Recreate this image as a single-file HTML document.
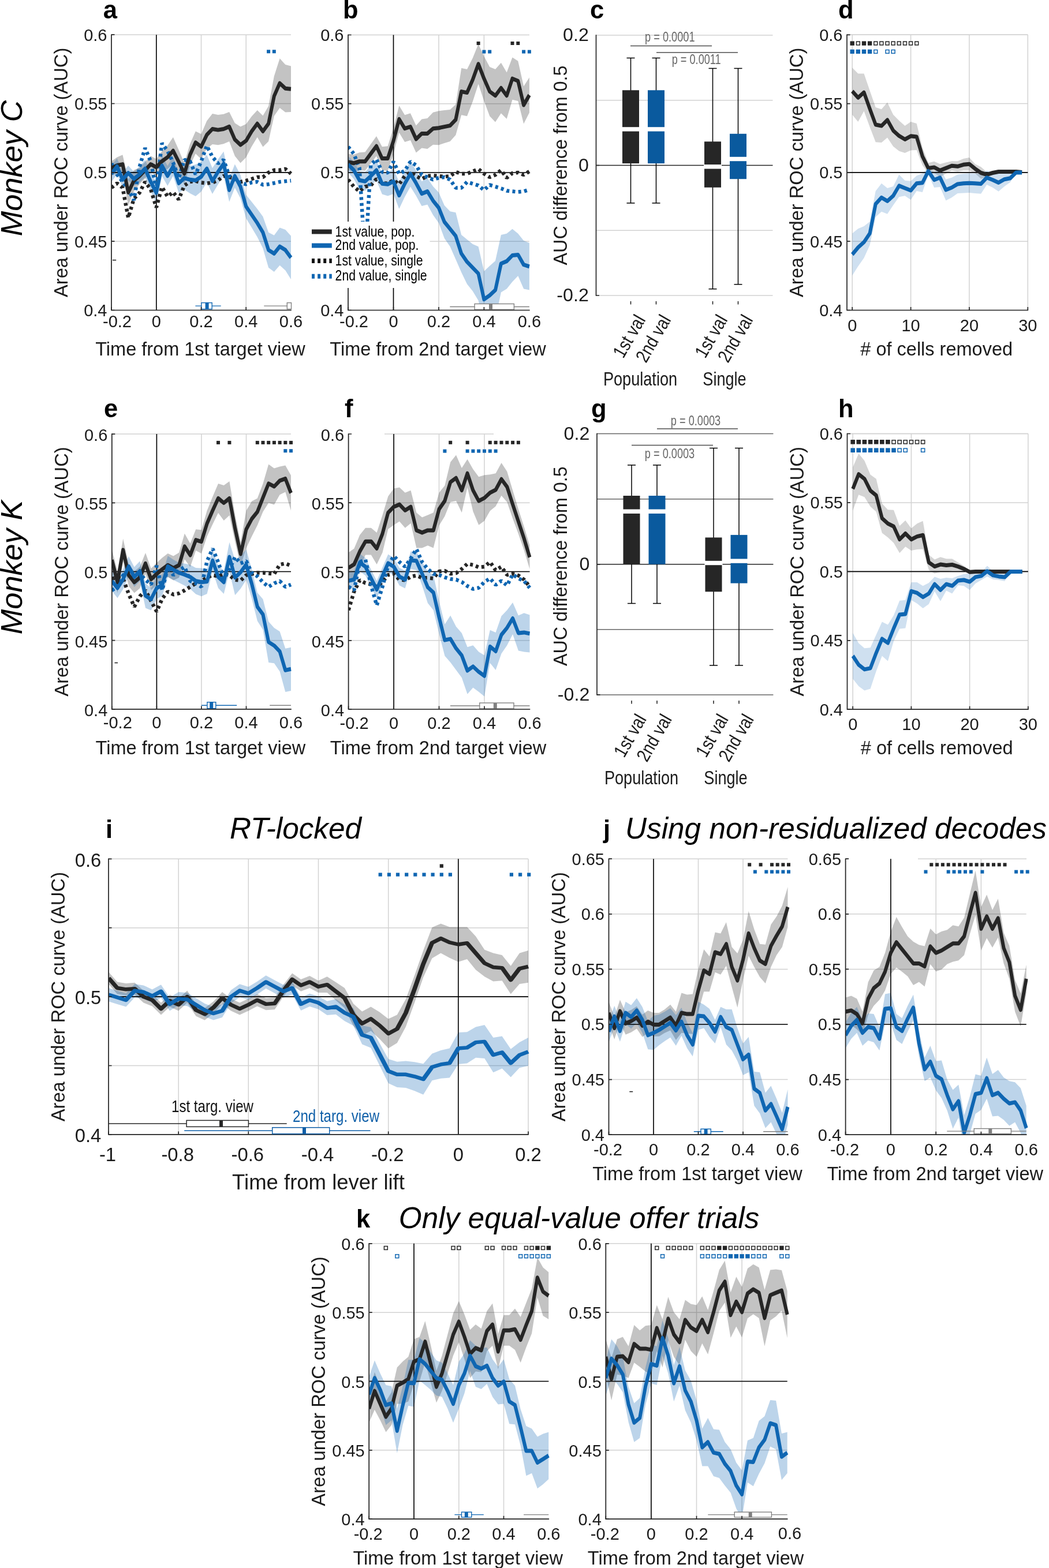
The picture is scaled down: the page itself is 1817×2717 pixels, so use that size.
<!DOCTYPE html>
<html lang="en"><head><meta charset="utf-8"><title>Figure</title>
<style>html,body{margin:0;padding:0;background:#fff}body{width:1817px;height:2717px;overflow:hidden}svg{display:block}</style>
</head><body>
<svg width="1817" height="2717" viewBox="0 0 1817 2717" font-family='"Liberation Sans", sans-serif'>
<rect width="1817" height="2717" fill="#fff"/>
<line x1="193" y1="60.2" x2="193" y2="537.5" stroke="#d2d2d2" stroke-width="1.5"/>
<line x1="270.8" y1="60.2" x2="270.8" y2="537.5" stroke="#d2d2d2" stroke-width="1.5"/>
<line x1="348.5" y1="60.2" x2="348.5" y2="537.5" stroke="#d2d2d2" stroke-width="1.5"/>
<line x1="426.2" y1="60.2" x2="426.2" y2="537.5" stroke="#d2d2d2" stroke-width="1.5"/>
<line x1="193" y1="537.5" x2="504" y2="537.5" stroke="#d2d2d2" stroke-width="1.5"/>
<line x1="193" y1="418.2" x2="504" y2="418.2" stroke="#d2d2d2" stroke-width="1.5"/>
<line x1="193" y1="298.9" x2="504" y2="298.9" stroke="#d2d2d2" stroke-width="1.5"/>
<line x1="193" y1="179.5" x2="504" y2="179.5" stroke="#d2d2d2" stroke-width="1.5"/>
<line x1="193" y1="60.2" x2="504" y2="60.2" stroke="#d2d2d2" stroke-width="1.5"/>
<text transform="translate(185.5 547.9)" font-size="29" text-anchor="end" fill="#1a1a1a">0.4</text>
<text transform="translate(185.5 428.6)" font-size="29" text-anchor="end" fill="#1a1a1a">0.45</text>
<text transform="translate(185.5 309.2)" font-size="29" text-anchor="end" fill="#1a1a1a">0.5</text>
<text transform="translate(185.5 189.9)" font-size="29" text-anchor="end" fill="#1a1a1a">0.55</text>
<text transform="translate(185.5 70.6)" font-size="29" text-anchor="end" fill="#1a1a1a">0.6</text>
<text transform="translate(203 567.3)" font-size="29" text-anchor="middle" fill="#1a1a1a">-0.2</text>
<text transform="translate(270.8 567.3)" font-size="29" text-anchor="middle" fill="#1a1a1a">0</text>
<text transform="translate(348.5 567.3)" font-size="29" text-anchor="middle" fill="#1a1a1a">0.2</text>
<text transform="translate(426.2 567.3)" font-size="29" text-anchor="middle" fill="#1a1a1a">0.4</text>
<text transform="translate(504 567.3)" font-size="29" text-anchor="middle" fill="#1a1a1a">0.6</text>
<text transform="translate(347 615.5)" font-size="32.5" text-anchor="middle" fill="#1a1a1a">Time from 1st target view</text>
<text transform="translate(117 298.9) rotate(-90)" font-size="32.7" text-anchor="middle" fill="#1a1a1a">Area under ROC curve (AUC)</text>
<clipPath id="c1"><rect x="193" y="60.2" width="311.5" height="477.3"/></clipPath>
<g clip-path="url(#c1)">
<polygon points="193,279.5 202.7,272.4 212.4,268.3 222.2,311.1 231.9,294.8 241.6,290.7 251.3,280.5 261,270.3 270.8,275.4 280.5,262.2 290.2,252 299.9,237.8 309.6,259.7 319.3,282.6 329.1,249.5 338.8,227.6 348.5,232.3 358.2,209.6 367.9,197 377.7,199 387.4,197.7 397.1,194 406.8,213.3 416.5,219.4 426.2,215 436,201.4 445.7,190.9 455.4,200.6 465.1,183.8 474.8,131.9 484.6,101.3 494.3,112 504,114.6 504,194 494.3,194.5 484.6,186.9 474.8,201.1 465.1,244.9 455.4,254.6 445.7,237.8 436,253.7 426.2,272.7 416.5,282.6 406.8,270.3 397.1,244.9 387.4,249.3 377.7,251.3 367.9,250 358.2,257.8 348.5,275.8 338.8,266.3 329.1,287.1 319.3,319.2 309.6,301.4 299.9,284.6 290.2,292.7 280.5,296.8 270.8,303.9 261,298.9 251.3,309 241.6,319.2 231.9,331.4 222.2,355.9 212.4,300.9 202.7,300.9 193,303.9" fill="#262626" fill-opacity="0.28"/>
<polygon points="193,286.8 202.7,274.5 212.4,298 222.2,286.9 231.9,297.6 241.6,288.6 251.3,276.9 261,298.1 270.8,315.8 280.5,269.2 290.2,287.4 299.9,271.5 309.6,301.3 319.3,288.6 329.1,287.5 338.8,285 348.5,280.4 358.2,268 367.9,291.3 377.7,276.1 387.4,262.5 397.1,309 406.8,284.6 416.5,302.9 426.2,337.5 436,349.8 445.7,362 455.4,375.2 465.1,402.7 474.8,407.8 484.6,394.6 494.3,398.1 504,408.8 504,484.1 494.3,468.4 484.6,459.7 474.8,470.9 465.1,463.8 455.4,430.2 445.7,410.8 436,394.6 426.2,378.3 416.5,343.6 406.8,325.3 397.1,349.8 387.4,304.6 377.7,319.6 367.9,336.1 358.2,316.2 348.5,332 338.8,340 329.1,335 319.3,328.6 309.6,333.9 299.9,305.1 290.2,322.1 280.5,304.9 270.8,352.4 261,331.7 251.3,307.4 241.6,316.1 231.9,322.1 222.2,312.4 212.4,324.5 202.7,302 193,315.3" fill="#0f66b2" fill-opacity="0.28"/>
</g>
<line x1="270.8" y1="60.2" x2="270.8" y2="537.5" stroke="#000" stroke-width="1.6"/>
<line x1="193" y1="298.9" x2="504" y2="298.9" stroke="#000" stroke-width="1.6"/>
<clipPath id="c2"><rect x="193" y="60.2" width="314" height="477.3"/></clipPath>
<g clip-path="url(#c2)">
<polyline points="193,325.3 202.7,317.6 212.4,325.3 222.2,377.4 231.9,344.3 241.6,334.1 251.3,314.9 261,327.8 270.8,359.5 280.5,323.9 290.2,340.6 299.9,332.9 309.6,345.7 319.3,321.5 329.1,314.9 338.8,313.7 348.5,316.4 358.2,317.6 367.9,316.4 377.7,312.5 387.4,304.8 397.1,307 406.8,309 416.5,315.1 426.2,313.1 436,310 445.7,307 455.4,307 465.1,298.9 474.8,294.8 484.6,294.8 494.3,292.7 504,300.9" fill="none" stroke="#262626" stroke-width="6.5" stroke-linejoin="bevel" stroke-dasharray="5 5.3"/>
<polyline points="193,283.2 202.7,302.3 212.4,314.9 222.2,327.8 231.9,346.9 241.6,289.5 251.3,256.5 261,279.3 270.8,327.8 280.5,248.1 290.2,261.6 299.9,281.9 309.6,308.6 319.3,276.9 329.1,279.3 338.8,302.3 348.5,279.3 358.2,252.6 367.9,271.8 377.7,283.2 387.4,276.9 397.1,305 406.8,311.1 416.5,317.2 426.2,319.2 436,316.2 445.7,315.1 455.4,320.2 465.1,319.2 474.8,317.2 484.6,315.1 494.3,314.1 504,313.1" fill="none" stroke="#0f66b2" stroke-width="6.5" stroke-linejoin="bevel" stroke-dasharray="5 5.3"/>
<polyline transform="translate(193 0) scale(0.86 1)" points="0,291.7 11.3,286.6 22.6,284.6 33.9,333.5 45.2,313.1 56.5,305 67.8,294.8 79.1,284.6 90.4,289.7 101.7,279.5 113,272.4 124.3,261.2 135.6,280.5 146.9,300.9 158.2,268.3 169.5,246.9 180.8,254.1 192.1,233.7 203.4,223.5 214.7,225.1 226,223.5 237.3,219.4 248.6,241.8 259.9,251 271.2,243.9 282.5,227.6 293.8,214.3 305.1,227.6 316.4,214.3 327.7,166.5 339,144.1 350.3,153.3 361.6,154.3" fill="none" stroke="#262626" stroke-width="7.0" stroke-linejoin="round"/>
<polyline transform="translate(193 0) scale(0.86 1)" points="0,301.1 11.3,288.3 22.6,311.3 33.9,299.7 45.2,309.8 56.5,302.3 67.8,292.1 79.1,314.9 90.4,334.1 101.7,287 113,304.8 124.3,288.3 135.6,317.6 146.9,308.6 158.2,311.3 169.5,312.5 180.8,306.2 192.1,292.1 203.4,313.7 214.7,297.8 226,283.6 237.3,329.4 248.6,305 259.9,323.3 271.2,357.9 282.5,372.2 293.8,386.4 305.1,402.7 316.4,433.2 327.7,439.4 339,427.1 350.3,433.2 361.6,446.5" fill="none" stroke="#0f66b2" stroke-width="7.0" stroke-linejoin="round"/>
</g>
<rect x="462.1" y="86.3" width="6" height="6" fill="#0f66b2"/>
<rect x="471.8" y="86.3" width="6" height="6" fill="#0f66b2"/>
<line x1="338.4" y1="530.1" x2="382.7" y2="530.1" stroke="#0f66b2" stroke-width="1.4"/>
<rect x="348.9" y="524.6" width="18.3" height="11" fill="#fff" stroke="#0f66b2" stroke-width="1.4"/>
<rect x="355.6" y="524.6" width="6" height="11" fill="#0f66b2"/>
<line x1="457.3" y1="530.1" x2="504" y2="530.1" stroke="#808080" stroke-width="1.4"/>
<rect x="497.3" y="524.6" width="7.2" height="11" fill="#fff" stroke="#808080" stroke-width="1.4"/>
<path d="M193 59.4 V537.5 H504.8" fill="none" stroke="#262626" stroke-width="1.7"/>
<path d="M193 537.5h5.5M193 418.2h5.5M193 298.9h5.5M193 179.5h5.5M193 60.2h5.5M193 537.5v-5.5M270.8 537.5v-5.5M348.5 537.5v-5.5M426.2 537.5v-5.5" fill="none" stroke="#262626" stroke-width="1.7"/>
<line x1="195" y1="450.7" x2="201.2" y2="450.7" stroke="#262626" stroke-width="1.6"/>
<line x1="603" y1="60.5" x2="603" y2="537.5" stroke="#d2d2d2" stroke-width="1.5"/>
<line x1="681.5" y1="60.5" x2="681.5" y2="537.5" stroke="#d2d2d2" stroke-width="1.5"/>
<line x1="760" y1="60.5" x2="760" y2="537.5" stroke="#d2d2d2" stroke-width="1.5"/>
<line x1="838.4" y1="60.5" x2="838.4" y2="537.5" stroke="#d2d2d2" stroke-width="1.5"/>
<line x1="603" y1="537.5" x2="916.9" y2="537.5" stroke="#d2d2d2" stroke-width="1.5"/>
<line x1="603" y1="418.2" x2="916.9" y2="418.2" stroke="#d2d2d2" stroke-width="1.5"/>
<line x1="603" y1="299" x2="916.9" y2="299" stroke="#d2d2d2" stroke-width="1.5"/>
<line x1="603" y1="179.7" x2="916.9" y2="179.7" stroke="#d2d2d2" stroke-width="1.5"/>
<line x1="603" y1="60.5" x2="916.9" y2="60.5" stroke="#d2d2d2" stroke-width="1.5"/>
<text transform="translate(595.5 547.9)" font-size="29" text-anchor="end" fill="#1a1a1a">0.4</text>
<text transform="translate(595.5 428.6)" font-size="29" text-anchor="end" fill="#1a1a1a">0.45</text>
<text transform="translate(595.5 309.4)" font-size="29" text-anchor="end" fill="#1a1a1a">0.5</text>
<text transform="translate(595.5 190.1)" font-size="29" text-anchor="end" fill="#1a1a1a">0.55</text>
<text transform="translate(595.5 70.9)" font-size="29" text-anchor="end" fill="#1a1a1a">0.6</text>
<text transform="translate(613 567.3)" font-size="29" text-anchor="middle" fill="#1a1a1a">-0.2</text>
<text transform="translate(681.5 567.3)" font-size="29" text-anchor="middle" fill="#1a1a1a">0</text>
<text transform="translate(760 567.3)" font-size="29" text-anchor="middle" fill="#1a1a1a">0.2</text>
<text transform="translate(838.4 567.3)" font-size="29" text-anchor="middle" fill="#1a1a1a">0.4</text>
<text transform="translate(916.9 567.3)" font-size="29" text-anchor="middle" fill="#1a1a1a">0.6</text>
<text transform="translate(758.5 615.5)" font-size="32.5" text-anchor="middle" fill="#1a1a1a">Time from 2nd target view</text>
<clipPath id="c3"><rect x="603" y="60.5" width="314.4" height="477"/></clipPath>
<g clip-path="url(#c3)">
<polygon points="603,266.4 612.8,267.9 622.6,264.2 632.4,263.6 642.2,249.8 652,235.9 661.9,254.2 671.7,253.2 681.5,221.7 691.3,183 701.1,199.3 710.9,196.2 720.7,217.6 730.5,206.5 740.3,205 750.1,194.7 760,192.2 769.8,191.1 779.6,190.1 789.4,181 799.2,117.9 809,119.9 818.8,100.6 828.6,76.2 838.4,97.5 848.2,115.9 858,119.9 867.9,108.7 877.7,125.5 887.5,99.6 897.3,105.7 907.1,149.4 916.9,134.2 916.9,195.2 907.1,214.5 897.3,174.9 887.5,172.8 877.7,205.9 867.9,196.2 858,211.5 848.2,201.3 838.4,174.9 828.6,145.4 818.8,175.9 809,201.3 799.2,199.3 789.4,233.9 779.6,245.1 769.8,248.1 760,251.2 750.1,250.7 740.3,257.9 730.5,256.4 720.7,264.4 710.9,243 701.1,246.1 691.3,229.8 681.5,266.4 671.7,295.9 661.9,294.9 652,270.5 642.2,283.1 632.4,295.7 622.6,295.1 612.8,297.6 603,294.9" fill="#262626" fill-opacity="0.28"/>
<polygon points="603,270.5 612.8,280 622.6,296.6 632.4,298 642.2,288.1 652,277.3 661.9,300 671.7,299.3 681.5,292.6 691.3,315.3 701.1,295.4 710.9,278.7 720.7,295.4 730.5,314.3 740.3,308.5 750.1,323.1 760,333.6 769.8,356 779.6,366.2 789.4,368.2 799.2,406.9 809,415 818.8,423.1 828.6,427.2 838.4,469.9 848.2,460.8 858,452.1 867.9,406.9 877.7,404.8 887.5,396.7 897.3,404.8 907.1,417 916.9,421.1 916.9,502.5 907.1,500.5 897.3,478.1 887.5,488.3 877.7,500.5 867.9,506.6 858,552.9 848.2,562.5 838.4,567.6 828.6,520.8 818.8,504.5 809,492.3 799.2,472 789.4,449.6 779.6,427.2 769.8,413 760,386.5 750.1,372.6 740.3,354.6 730.5,357 720.7,339.2 710.9,323.4 701.1,341.2 691.3,362.1 681.5,336 671.7,339.4 661.9,336.6 652,312.6 642.2,322.1 632.4,330.5 622.6,327.8 612.8,309.9 603,299" fill="#0f66b2" fill-opacity="0.28"/>
</g>
<line x1="681.5" y1="60.5" x2="681.5" y2="537.5" stroke="#000" stroke-width="1.6"/>
<line x1="603" y1="299" x2="916.9" y2="299" stroke="#000" stroke-width="1.6"/>
<clipPath id="c4"><rect x="603" y="60.5" width="316.9" height="477"/></clipPath>
<g clip-path="url(#c4)">
<polyline points="603,311.2 612.8,323.4 622.6,331.6 632.4,323.4 642.2,321.4 652,310 661.9,317.3 671.7,317.7 681.5,312.2 691.3,319.3 701.1,305.1 710.9,299 720.7,305.1 730.5,310.2 740.3,305.1 750.1,304.1 760,305.1 769.8,306.1 779.6,305.1 789.4,298 799.2,301 809,301 818.8,297 828.6,292.9 838.4,301 848.2,307.1 858,303.1 867.9,294.9 877.7,308.2 887.5,300 897.3,299 907.1,303.1 916.9,297" fill="none" stroke="#262626" stroke-width="6.5" stroke-linejoin="bevel" stroke-dasharray="5 5.3"/>
<polyline points="603,254.2 612.8,266.4 622.6,290.9 632.4,450.2 642.2,285.8 652,276 661.9,298 671.7,299.2 681.5,280.1 691.3,301 701.1,295.9 710.9,280.1 720.7,286.4 730.5,303.1 740.3,307.1 750.1,311.2 760,308.2 769.8,307.1 779.6,311.2 789.4,325.5 799.2,325.5 809,315.3 818.8,318.3 828.6,321.4 838.4,329.5 848.2,320.4 858,323.4 867.9,326.5 877.7,330.5 887.5,331.6 897.3,332.6 907.1,331.6 916.9,328.5" fill="none" stroke="#0f66b2" stroke-width="6.5" stroke-linejoin="bevel" stroke-dasharray="5 5.3"/>
<polyline transform="translate(603 0) scale(0.86 1)" points="0,280.7 11.4,282.7 22.8,279.7 34.2,279.7 45.6,266.4 57,253.2 68.4,274.6 79.8,274.6 91.3,244.1 102.7,206.4 114.1,222.7 125.5,219.6 136.9,241 148.3,231.4 159.7,231.4 171.1,222.7 182.5,221.7 193.9,219.6 205.3,217.6 216.7,207.4 228.1,158.6 239.5,160.6 250.9,138.2 262.3,110.8 273.7,136.2 285.2,158.6 296.6,165.7 308,152.5 319.4,165.7 330.8,136.2 342.2,140.3 353.6,182 365,164.7" fill="none" stroke="#262626" stroke-width="7.0" stroke-linejoin="round"/>
<polyline transform="translate(603 0) scale(0.86 1)" points="0,284.8 11.4,294.9 22.8,312.2 34.2,314.3 45.6,305.1 57,294.9 68.4,318.3 79.8,319.3 91.3,314.3 102.7,338.7 114.1,318.3 125.5,301 136.9,317.3 148.3,335.6 159.7,331.6 171.1,347.8 182.5,360 193.9,384.5 205.3,396.7 216.7,408.9 228.1,439.4 239.5,453.7 250.9,463.8 262.3,474 273.7,518.8 285.2,511.7 296.6,502.5 308,456.7 319.4,452.6 330.8,442.5 342.2,441.4 353.6,458.7 365,461.8" fill="none" stroke="#0f66b2" stroke-width="7.0" stroke-linejoin="round"/>
</g>
<rect x="825.6" y="72" width="6" height="6" fill="#262626"/>
<rect x="884.5" y="72" width="6" height="6" fill="#262626"/>
<rect x="894.3" y="72" width="6" height="6" fill="#262626"/>
<rect x="835.4" y="86.6" width="6" height="6" fill="#0f66b2"/>
<rect x="845.2" y="86.6" width="6" height="6" fill="#0f66b2"/>
<rect x="904.1" y="86.6" width="6" height="6" fill="#0f66b2"/>
<rect x="913.9" y="86.6" width="6" height="6" fill="#0f66b2"/>
<line x1="779.3" y1="531.5" x2="916.9" y2="531.5" stroke="#808080" stroke-width="1.4"/>
<rect x="822.1" y="526.5" width="68.3" height="10" fill="#fff" stroke="#808080" stroke-width="1.4"/>
<rect x="847" y="526.5" width="6" height="10" fill="#808080"/>
<path d="M603 59.7 V537.5 H917.7" fill="none" stroke="#262626" stroke-width="1.7"/>
<path d="M603 537.5h5.5M603 418.2h5.5M603 299h5.5M603 179.7h5.5M603 60.5h5.5M603 537.5v-5.5M681.5 537.5v-5.5M760 537.5v-5.5M838.4 537.5v-5.5" fill="none" stroke="#262626" stroke-width="1.7"/>
<rect x="533" y="384" width="211.5" height="115" fill="#fff"/>
<line x1="540" y1="401.4" x2="574.8" y2="401.4" stroke="#262626" stroke-width="8"/>
<text transform="translate(580.6 409.6) scale(0.835 1)" font-size="25.4" fill="#000">1st value, pop.</text>
<line x1="540" y1="425.4" x2="574.8" y2="425.4" stroke="#0f66b2" stroke-width="8"/>
<text transform="translate(580.6 433.4) scale(0.835 1)" font-size="25.4" fill="#000">2nd value, pop.</text>
<line x1="540" y1="451.9" x2="574.8" y2="451.9" stroke="#111" stroke-width="8" stroke-dasharray="5 5.1"/>
<text transform="translate(580.6 459.5) scale(0.835 1)" font-size="25.4" fill="#000">1st value, single</text>
<line x1="540" y1="478.8" x2="574.8" y2="478.8" stroke="#0f66b2" stroke-width="8" stroke-dasharray="5 5.1"/>
<text transform="translate(580.6 485.9) scale(0.835 1)" font-size="25.4" fill="#000">2nd value, single</text>
<line x1="1032.5" y1="512" x2="1338.5" y2="512" stroke="#d2d2d2" stroke-width="1.5"/>
<line x1="1032.5" y1="399.2" x2="1338.5" y2="399.2" stroke="#d2d2d2" stroke-width="1.5"/>
<line x1="1032.5" y1="173.7" x2="1338.5" y2="173.7" stroke="#d2d2d2" stroke-width="1.5"/>
<line x1="1032.5" y1="61" x2="1338.5" y2="61" stroke="#d2d2d2" stroke-width="1.5"/>
<line x1="1032.5" y1="286.5" x2="1338.5" y2="286.5" stroke="#262626" stroke-width="1.6"/>
<path d="M1032.5 60.2 V512.8" fill="none" stroke="#262626" stroke-width="1.7"/>
<text transform="translate(1019.8 522)" font-size="32.2" text-anchor="end" fill="#1a1a1a">-0.2</text>
<text transform="translate(1019.8 296.5)" font-size="32.2" text-anchor="end" fill="#1a1a1a">0</text>
<text transform="translate(1019.8 71)" font-size="32.2" text-anchor="end" fill="#1a1a1a">0.2</text>
<path d="M1032.5 512h5.5M1032.5 286.5h5.5" fill="none" stroke="#262626" stroke-width="1.7"/>
<text transform="translate(982 286.5) rotate(-90)" font-size="32.3" text-anchor="middle" fill="#1a1a1a">AUC difference from 0.5</text>
<line x1="1092.5" y1="351.9" x2="1092.5" y2="100.5" stroke="#000" stroke-width="1.5"/>
<line x1="1085.5" y1="351.9" x2="1099.5" y2="351.9" stroke="#000" stroke-width="1.5"/>
<line x1="1085.5" y1="100.5" x2="1099.5" y2="100.5" stroke="#000" stroke-width="1.5"/>
<rect x="1078" y="156.3" width="29" height="126.8" fill="#262626"/>
<rect x="1077" y="220.2" width="31" height="7.4" fill="#fff"/>
<line x1="1092.5" y1="522" x2="1092.5" y2="527.5" stroke="#262626" stroke-width="1.6"/>
<text transform="translate(1119 554) rotate(-60) scale(0.840 1)" font-size="32.5" text-anchor="end" fill="#1a1a1a">1st val</text>
<line x1="1136.5" y1="351.9" x2="1136.5" y2="100.5" stroke="#000" stroke-width="1.5"/>
<line x1="1129.5" y1="351.9" x2="1143.5" y2="351.9" stroke="#000" stroke-width="1.5"/>
<line x1="1129.5" y1="100.5" x2="1143.5" y2="100.5" stroke="#000" stroke-width="1.5"/>
<rect x="1122" y="156.3" width="29" height="126.8" fill="#0a5a9e"/>
<rect x="1121" y="220.2" width="31" height="7.4" fill="#fff"/>
<line x1="1136.5" y1="522" x2="1136.5" y2="527.5" stroke="#262626" stroke-width="1.6"/>
<text transform="translate(1163 554) rotate(-60) scale(0.840 1)" font-size="32.5" text-anchor="end" fill="#1a1a1a">2nd val</text>
<line x1="1234.5" y1="500.7" x2="1234.5" y2="118.5" stroke="#000" stroke-width="1.5"/>
<line x1="1227.5" y1="500.7" x2="1241.5" y2="500.7" stroke="#000" stroke-width="1.5"/>
<line x1="1227.5" y1="118.5" x2="1241.5" y2="118.5" stroke="#000" stroke-width="1.5"/>
<rect x="1220" y="245.3" width="29" height="79.5" fill="#262626"/>
<rect x="1219" y="285.1" width="31" height="7.4" fill="#fff"/>
<line x1="1234.5" y1="522" x2="1234.5" y2="527.5" stroke="#262626" stroke-width="1.6"/>
<text transform="translate(1261 554) rotate(-60) scale(0.840 1)" font-size="32.5" text-anchor="end" fill="#1a1a1a">1st val</text>
<line x1="1278.5" y1="492.8" x2="1278.5" y2="118.5" stroke="#000" stroke-width="1.5"/>
<line x1="1271.5" y1="492.8" x2="1285.5" y2="492.8" stroke="#000" stroke-width="1.5"/>
<line x1="1271.5" y1="118.5" x2="1285.5" y2="118.5" stroke="#000" stroke-width="1.5"/>
<rect x="1264" y="231.8" width="29" height="78.4" fill="#0a5a9e"/>
<rect x="1263" y="271.8" width="31" height="7.4" fill="#fff"/>
<line x1="1278.5" y1="522" x2="1278.5" y2="527.5" stroke="#262626" stroke-width="1.6"/>
<text transform="translate(1305 554) rotate(-60) scale(0.840 1)" font-size="32.5" text-anchor="end" fill="#1a1a1a">2nd val</text>
<text transform="translate(1109 668) scale(0.810 1)" font-size="33.5" text-anchor="middle" fill="#1a1a1a">Population</text>
<text transform="translate(1255 668) scale(0.810 1)" font-size="33.5" text-anchor="middle" fill="#1a1a1a">Single</text>
<line x1="1092" y1="79.5" x2="1233" y2="79.5" stroke="#4d4d4d" stroke-width="1.3"/>
<text transform="translate(1160.3 72.3) scale(0.790 1)" font-size="23" text-anchor="middle" fill="#666">p = 0.0001</text>
<line x1="1137" y1="91" x2="1278" y2="91" stroke="#4d4d4d" stroke-width="1.3"/>
<text transform="translate(1206.2 110.6) scale(0.790 1)" font-size="23" text-anchor="middle" fill="#666">p = 0.0011</text>
<line x1="1476.2" y1="60.3" x2="1476.2" y2="537.5" stroke="#d2d2d2" stroke-width="1.5"/>
<line x1="1577.6" y1="60.3" x2="1577.6" y2="537.5" stroke="#d2d2d2" stroke-width="1.5"/>
<line x1="1678.9" y1="60.3" x2="1678.9" y2="537.5" stroke="#d2d2d2" stroke-width="1.5"/>
<line x1="1467" y1="537.5" x2="1780.3" y2="537.5" stroke="#d2d2d2" stroke-width="1.5"/>
<line x1="1467" y1="418.2" x2="1780.3" y2="418.2" stroke="#d2d2d2" stroke-width="1.5"/>
<line x1="1467" y1="298.9" x2="1780.3" y2="298.9" stroke="#d2d2d2" stroke-width="1.5"/>
<line x1="1467" y1="179.6" x2="1780.3" y2="179.6" stroke="#d2d2d2" stroke-width="1.5"/>
<line x1="1467" y1="60.3" x2="1780.3" y2="60.3" stroke="#d2d2d2" stroke-width="1.5"/>
<line x1="1467" y1="60.3" x2="1780.3" y2="60.3" stroke="#d2d2d2" stroke-width="1.5"/>
<line x1="1780.3" y1="60.3" x2="1780.3" y2="537.5" stroke="#d2d2d2" stroke-width="1.5"/>
<text transform="translate(1459.5 547.9)" font-size="29" text-anchor="end" fill="#1a1a1a">0.4</text>
<text transform="translate(1459.5 428.6)" font-size="29" text-anchor="end" fill="#1a1a1a">0.45</text>
<text transform="translate(1459.5 309.3)" font-size="29" text-anchor="end" fill="#1a1a1a">0.5</text>
<text transform="translate(1459.5 190)" font-size="29" text-anchor="end" fill="#1a1a1a">0.55</text>
<text transform="translate(1459.5 70.7)" font-size="29" text-anchor="end" fill="#1a1a1a">0.6</text>
<text transform="translate(1476.2 573.5)" font-size="29" text-anchor="middle" fill="#1a1a1a">0</text>
<text transform="translate(1577.6 573.5)" font-size="29" text-anchor="middle" fill="#1a1a1a">10</text>
<text transform="translate(1678.9 573.5)" font-size="29" text-anchor="middle" fill="#1a1a1a">20</text>
<text transform="translate(1780.3 573.5)" font-size="29" text-anchor="middle" fill="#1a1a1a">30</text>
<text transform="translate(1622.2 615.5)" font-size="32.5" text-anchor="middle" fill="#1a1a1a"># of cells removed</text>
<text transform="translate(1391 298.9) rotate(-90)" font-size="32.7" text-anchor="middle" fill="#1a1a1a">Area under ROC curve (AUC)</text>
<clipPath id="c5"><rect x="1467" y="60.3" width="313.8" height="477.2"/></clipPath>
<g clip-path="url(#c5)">
<polygon points="1476.2,117.3 1486.3,127.5 1496.5,127.5 1506.6,157 1516.7,185.9 1526.9,189.2 1537,177.4 1547.2,198.7 1557.3,208.9 1567.4,218.1 1577.6,211 1587.7,214 1597.8,255.7 1608,282.2 1618.1,279.8 1628.3,284.2 1638.4,281.6 1648.5,279.2 1658.7,279.2 1668.8,275.1 1678.9,273 1689.1,284.2 1699.2,289.3 1709.3,298.5 1719.5,297.5 1729.6,296.5 1739.8,297.5 1749.9,297.5 1760,297.5 1770.2,298.5 1770.2,298.5 1760,297.5 1749.9,297.5 1739.8,297.5 1729.6,298.5 1719.5,301.5 1709.3,306.6 1699.2,309.7 1689.1,300.5 1678.9,295.4 1668.8,295.4 1658.7,297.5 1648.5,295.4 1638.4,301.1 1628.3,306.6 1618.1,300.1 1608,300.5 1597.8,286.3 1587.7,260 1577.6,260.6 1567.4,264.9 1557.3,261.8 1547.2,253.7 1537,238.4 1526.9,247 1516.7,246.2 1506.6,220.1 1496.5,192.6 1486.3,211 1476.2,198.7" fill="#262626" fill-opacity="0.2"/>
<polygon points="1476.2,404.4 1486.3,396.2 1496.5,392.1 1506.6,384 1516.7,331.1 1526.9,317.8 1537,326 1547.2,322.9 1557.3,302.6 1567.4,312.7 1577.6,313.8 1587.7,304.6 1597.8,300.5 1608,290.3 1618.1,298.5 1628.3,291.4 1638.4,310.7 1648.5,307.7 1658.7,302.6 1668.8,301.1 1678.9,300.3 1689.1,300.5 1699.2,301.1 1709.3,295.4 1719.5,298.5 1729.6,301.1 1739.8,298.5 1749.9,301.5 1760,298.9 1770.2,298.9 1770.2,298.9 1760,298.9 1749.9,315.8 1739.8,322.9 1729.6,331.7 1719.5,325 1709.3,319.9 1699.2,335.7 1689.1,335.1 1678.9,334.1 1668.8,334.5 1658.7,335.1 1648.5,342.3 1638.4,347.4 1628.3,323.9 1618.1,325 1608,302.6 1597.8,333.1 1587.7,331.1 1577.6,346.3 1567.4,339.2 1557.3,341.2 1547.2,355.5 1537,370.8 1526.9,366.7 1516.7,375.9 1506.6,424.7 1496.5,447.1 1486.3,461.4 1476.2,477.6" fill="#0f66b2" fill-opacity="0.2"/>
</g>
<line x1="1467" y1="298.9" x2="1780.3" y2="298.9" stroke="#000" stroke-width="1.6"/>
<clipPath id="c6"><rect x="1467" y="60.3" width="316.3" height="477.2"/></clipPath>
<g clip-path="url(#c6)">
<polyline transform="translate(1467 0) scale(0.86 1)" points="10.7,158 22.5,169.2 34.3,160.1 46.1,188.6 57.8,216 69.6,218.1 81.4,207.9 93.2,226.2 105,235.4 116.8,241.5 128.6,235.8 140.4,237 152.1,271 163.9,291.4 175.7,289.9 187.5,295.4 199.3,291.4 211.1,287.3 222.9,288.3 234.6,285.3 246.4,284.2 258.2,292.4 270,299.5 281.8,302.6 293.6,299.5 305.4,297.5 317.2,297.5 328.9,297.5 340.7,297.5 352.5,298.5" fill="none" stroke="#262626" stroke-width="7.0" stroke-linejoin="round"/>
<polyline transform="translate(1467 0) scale(0.86 1)" points="10.7,441 22.5,428.8 34.3,419.6 46.1,404.4 57.8,353.5 69.6,342.3 81.4,348.4 93.2,339.2 105,321.9 116.8,326 128.6,330 140.4,317.8 152.1,316.8 163.9,296.5 175.7,311.7 187.5,307.7 199.3,329 211.1,325 222.9,318.9 234.6,317.8 246.4,317.2 258.2,317.8 270,318.4 281.8,307.7 293.6,311.7 305.4,316.4 317.2,310.7 328.9,308.7 340.7,298.9 352.5,298.9" fill="none" stroke="#0f66b2" stroke-width="7.0" stroke-linejoin="round"/>
</g>
<rect x="1472.5" y="71.4" width="7.4" height="7.4" fill="#262626"/>
<rect x="1483.4" y="72.1" width="5.9" height="5.9" fill="#fff" stroke="#262626" stroke-width="1.5"/>
<rect x="1492.8" y="71.4" width="7.4" height="7.4" fill="#262626"/>
<rect x="1502.9" y="71.4" width="7.4" height="7.4" fill="#262626"/>
<rect x="1513.8" y="72.1" width="5.9" height="5.9" fill="#fff" stroke="#262626" stroke-width="1.5"/>
<rect x="1523.9" y="72.1" width="5.9" height="5.9" fill="#fff" stroke="#262626" stroke-width="1.5"/>
<rect x="1534.1" y="72.1" width="5.9" height="5.9" fill="#fff" stroke="#262626" stroke-width="1.5"/>
<rect x="1544.2" y="72.1" width="5.9" height="5.9" fill="#fff" stroke="#262626" stroke-width="1.5"/>
<rect x="1554.3" y="72.1" width="5.9" height="5.9" fill="#fff" stroke="#262626" stroke-width="1.5"/>
<rect x="1564.5" y="72.1" width="5.9" height="5.9" fill="#fff" stroke="#262626" stroke-width="1.5"/>
<rect x="1574.6" y="72.1" width="5.9" height="5.9" fill="#fff" stroke="#262626" stroke-width="1.5"/>
<rect x="1584.8" y="72.1" width="5.9" height="5.9" fill="#fff" stroke="#262626" stroke-width="1.5"/>
<rect x="1472.5" y="85.7" width="7.4" height="7.4" fill="#0f66b2"/>
<rect x="1482.6" y="85.7" width="7.4" height="7.4" fill="#0f66b2"/>
<rect x="1492.8" y="85.7" width="7.4" height="7.4" fill="#0f66b2"/>
<rect x="1502.9" y="85.7" width="7.4" height="7.4" fill="#0f66b2"/>
<rect x="1513.8" y="86.5" width="5.9" height="5.9" fill="#fff" stroke="#0f66b2" stroke-width="1.5"/>
<rect x="1534.1" y="86.5" width="5.9" height="5.9" fill="#fff" stroke="#0f66b2" stroke-width="1.5"/>
<rect x="1544.2" y="86.5" width="5.9" height="5.9" fill="#fff" stroke="#0f66b2" stroke-width="1.5"/>
<path d="M1467 59.5 V537.5 H1781.1" fill="none" stroke="#262626" stroke-width="1.7"/>
<path d="M1467 537.5h5.5M1467 418.2h5.5M1467 298.9h5.5M1467 179.6h5.5M1467 60.3h5.5M1476.2 537.5v-5.5M1577.6 537.5v-5.5M1678.9 537.5v-5.5M1780.3 537.5v-5.5" fill="none" stroke="#262626" stroke-width="1.7"/>
<line x1="193.8" y1="752.1" x2="193.8" y2="1228.9" stroke="#d2d2d2" stroke-width="1.5"/>
<line x1="271.4" y1="752.1" x2="271.4" y2="1228.9" stroke="#d2d2d2" stroke-width="1.5"/>
<line x1="348.9" y1="752.1" x2="348.9" y2="1228.9" stroke="#d2d2d2" stroke-width="1.5"/>
<line x1="426.5" y1="752.1" x2="426.5" y2="1228.9" stroke="#d2d2d2" stroke-width="1.5"/>
<line x1="193.8" y1="1228.9" x2="504" y2="1228.9" stroke="#d2d2d2" stroke-width="1.5"/>
<line x1="193.8" y1="1109.7" x2="504" y2="1109.7" stroke="#d2d2d2" stroke-width="1.5"/>
<line x1="193.8" y1="990.5" x2="504" y2="990.5" stroke="#d2d2d2" stroke-width="1.5"/>
<line x1="193.8" y1="871.3" x2="504" y2="871.3" stroke="#d2d2d2" stroke-width="1.5"/>
<line x1="193.8" y1="752.1" x2="504" y2="752.1" stroke="#d2d2d2" stroke-width="1.5"/>
<text transform="translate(186.3 1240.7)" font-size="29" text-anchor="end" fill="#1a1a1a">0.4</text>
<text transform="translate(186.3 1121.5)" font-size="29" text-anchor="end" fill="#1a1a1a">0.45</text>
<text transform="translate(186.3 1002.3)" font-size="29" text-anchor="end" fill="#1a1a1a">0.5</text>
<text transform="translate(186.3 883.1)" font-size="29" text-anchor="end" fill="#1a1a1a">0.55</text>
<text transform="translate(186.3 763.9)" font-size="29" text-anchor="end" fill="#1a1a1a">0.6</text>
<text transform="translate(203.8 1262.4)" font-size="29" text-anchor="middle" fill="#1a1a1a">-0.2</text>
<text transform="translate(271.4 1262.4)" font-size="29" text-anchor="middle" fill="#1a1a1a">0</text>
<text transform="translate(348.9 1262.4)" font-size="29" text-anchor="middle" fill="#1a1a1a">0.2</text>
<text transform="translate(426.5 1262.4)" font-size="29" text-anchor="middle" fill="#1a1a1a">0.4</text>
<text transform="translate(504 1262.4)" font-size="29" text-anchor="middle" fill="#1a1a1a">0.6</text>
<text transform="translate(347.4 1306.9)" font-size="32.5" text-anchor="middle" fill="#1a1a1a">Time from 1st target view</text>
<text transform="translate(117.8 990.5) rotate(-90)" font-size="32.7" text-anchor="middle" fill="#1a1a1a">Area under ROC curve (AUC)</text>
<clipPath id="c7"><rect x="193.8" y="752.1" width="310.7" height="476.8"/></clipPath>
<g clip-path="url(#c7)">
<polygon points="193.8,951.9 203.5,990 213.2,933.5 222.9,977.5 232.6,990 242.3,982.1 252,958 261.7,984.9 271.4,975.2 281,966.6 290.7,959 300.4,963.4 310.1,957.6 319.8,924.4 329.5,941.7 339.2,917.3 348.9,918.3 358.6,884.7 368.3,860.8 378,837.9 387.7,841 397.4,833.9 407.1,891.8 416.8,939.6 426.5,884.7 436.1,868.5 445.8,863.4 455.5,837.9 465.2,804.4 474.9,811.5 484.6,808.4 494.3,806.4 504,823.7 504,884.7 494.3,852.4 484.6,857.3 474.9,874.6 465.2,871.5 455.5,886.8 445.8,910.2 436.1,929.5 426.5,949.8 416.8,980.3 407.1,938.6 397.4,892.9 387.7,902 378,888.8 368.3,908.6 358.6,929.5 348.9,959 339.2,953.9 329.5,982.4 319.8,969.1 310.1,1001 300.4,1005.4 290.7,999.7 281,1006.3 271.4,1013.9 261.7,1022.5 252,994.6 242.3,1019.2 232.6,1027.6 222.9,1015.7 213.2,972.2 203.5,1027.6 193.8,988.5" fill="#262626" fill-opacity="0.28"/>
<polygon points="193.8,989.5 203.5,1001.7 213.2,986.4 222.9,964.1 232.6,982.4 242.3,972.2 252,1010.8 261.7,1019 271.4,1000.1 281,995.4 290.7,963.2 300.4,969.8 310.1,975.2 319.8,976.5 329.5,978.8 339.2,984.1 348.9,984.4 358.6,986.4 368.3,952.9 378,980.3 387.7,988.5 397.4,939.6 407.1,970.2 416.8,963 426.5,951.9 436.1,986.4 445.8,1027.1 455.5,1038.3 465.2,1077 474.9,1088.1 484.6,1094.2 494.3,1123.7 504,1121.7 504,1197 494.3,1199 484.6,1163.4 474.9,1149.2 465.2,1148.1 455.5,1091.2 445.8,1075.9 436.1,1037.3 426.5,1004.7 416.8,1020 407.1,1031.2 397.4,990.5 387.7,1029.1 378,1019 368.3,989.5 358.6,1029.1 348.9,1033.2 339.2,1029.4 329.5,1020.5 319.8,1014.7 310.1,1009.8 300.4,1005.1 290.7,999.5 281,1032.4 271.4,1037.9 261.7,1057.6 252,1053.6 242.3,1006.8 232.6,1016.9 222.9,998.6 213.2,1021 203.5,1036.3 193.8,1024.1" fill="#0f66b2" fill-opacity="0.28"/>
</g>
<line x1="271.4" y1="752.1" x2="271.4" y2="1228.9" stroke="#000" stroke-width="1.6"/>
<line x1="193.8" y1="990.5" x2="504" y2="990.5" stroke="#000" stroke-width="1.6"/>
<clipPath id="c8"><rect x="193.8" y="752.1" width="313.2" height="476.8"/></clipPath>
<g clip-path="url(#c8)">
<polyline points="193.8,1002.7 203.5,1000.7 213.2,1002.7 222.9,1029.1 232.6,1051.5 242.3,1033.2 252,1023 261.7,1041.4 271.4,1059.7 281,1037.3 290.7,1025.1 300.4,1030.2 310.1,1028.1 319.8,1023 329.5,1016.9 339.2,1010.8 348.9,1006.8 358.6,1000.7 368.3,996.6 378,998.6 387.7,994.6 397.4,996.6 407.1,1004.7 416.8,1005.8 426.5,996.6 436.1,994.6 445.8,992.5 455.5,992.5 465.2,993.6 474.9,994.6 484.6,978.3 494.3,976.3 504,980.3" fill="none" stroke="#262626" stroke-width="6.5" stroke-linejoin="bevel" stroke-dasharray="5 5.3"/>
<polyline points="193.8,1023 203.5,1016.9 213.2,996.6 222.9,992.5 232.6,998.6 242.3,994.6 252,1004.7 261.7,1012.9 271.4,980.3 281,1023 290.7,982.4 300.4,996.6 310.1,988.5 319.8,982.4 329.5,1006.8 339.2,1010.8 348.9,1016.9 358.6,972.2 368.3,950.8 378,974.2 387.7,1002.7 397.4,986.4 407.1,965.1 416.8,976.3 426.5,972.2 436.1,992.5 445.8,998.6 455.5,1008.8 465.2,1016.9 474.9,1010.8 484.6,1006.8 494.3,1016.9 504,1012.9" fill="none" stroke="#0f66b2" stroke-width="6.5" stroke-linejoin="bevel" stroke-dasharray="5 5.3"/>
<polyline transform="translate(193.8 0) scale(0.86 1)" points="0,970.2 11.3,1008.8 22.5,952.9 33.8,996.6 45.1,1008.8 56.4,1000.7 67.6,976.3 78.9,1003.7 90.2,994.6 101.4,986.4 112.7,979.3 124,984.4 135.3,979.3 146.5,946.8 157.8,962 169.1,935.6 180.3,938.6 191.6,907.1 202.9,884.7 214.2,863.4 225.4,871.5 236.7,863.4 248,915.2 259.3,960 270.5,917.3 281.8,899 293.1,886.8 304.3,862.3 315.6,837.9 326.9,843 338.2,832.9 349.4,829.4 360.7,854.2" fill="none" stroke="#262626" stroke-width="7.0" stroke-linejoin="round"/>
<polyline transform="translate(193.8 0) scale(0.86 1)" points="0,1006.8 11.3,1019 22.5,1003.7 33.8,981.3 45.1,999.7 56.4,989.5 67.6,1032.2 78.9,1038.3 90.2,1019 101.4,1013.9 112.7,981.3 124,987.4 135.3,992.5 146.5,995.6 157.8,999.7 169.1,1006.8 180.3,1008.8 191.6,1007.8 202.9,971.2 214.2,999.7 225.4,1008.8 236.7,965.1 248,1000.7 259.3,991.5 270.5,978.3 281.8,1011.9 293.1,1051.5 304.3,1064.7 315.6,1112.5 326.9,1118.7 338.2,1128.8 349.4,1161.4 360.7,1159.3" fill="none" stroke="#0f66b2" stroke-width="7.0" stroke-linejoin="round"/>
</g>
<rect x="375" y="763.9" width="6" height="6" fill="#262626"/>
<rect x="394.4" y="763.9" width="6" height="6" fill="#262626"/>
<rect x="442.8" y="763.9" width="6" height="6" fill="#262626"/>
<rect x="452.5" y="763.9" width="6" height="6" fill="#262626"/>
<rect x="462.2" y="763.9" width="6" height="6" fill="#262626"/>
<rect x="471.9" y="763.9" width="6" height="6" fill="#262626"/>
<rect x="481.6" y="763.9" width="6" height="6" fill="#262626"/>
<rect x="491.3" y="763.9" width="6" height="6" fill="#262626"/>
<rect x="501" y="763.9" width="6" height="6" fill="#262626"/>
<rect x="491.3" y="778.2" width="6" height="6" fill="#0f66b2"/>
<rect x="501" y="778.2" width="6" height="6" fill="#0f66b2"/>
<line x1="348.9" y1="1222.2" x2="410.2" y2="1222.2" stroke="#0f66b2" stroke-width="1.4"/>
<rect x="358.9" y="1216.7" width="14.9" height="11" fill="#fff" stroke="#0f66b2" stroke-width="1.4"/>
<rect x="363.2" y="1216.7" width="6" height="11" fill="#0f66b2"/>
<line x1="467.2" y1="1222.2" x2="504" y2="1222.2" stroke="#808080" stroke-width="1.4"/>
<rect x="542.8" y="1216.7" width="-38.3" height="11" fill="#fff" stroke="#808080" stroke-width="1.4"/>
<path d="M193.8 751.3 V1228.9 H504.8" fill="none" stroke="#262626" stroke-width="1.7"/>
<path d="M193.8 1228.9h5.5M193.8 1109.7h5.5M193.8 990.5h5.5M193.8 871.3h5.5M193.8 752.1h5.5M193.8 1228.9v-5.5M271.4 1228.9v-5.5M348.9 1228.9v-5.5M426.5 1228.9v-5.5" fill="none" stroke="#262626" stroke-width="1.7"/>
<line x1="198.5" y1="1148.5" x2="204" y2="1148.5" stroke="#262626" stroke-width="1.6"/>
<line x1="603.6" y1="752" x2="603.6" y2="1229" stroke="#d2d2d2" stroke-width="1.5"/>
<line x1="682.1" y1="752" x2="682.1" y2="1229" stroke="#d2d2d2" stroke-width="1.5"/>
<line x1="760.5" y1="752" x2="760.5" y2="1229" stroke="#d2d2d2" stroke-width="1.5"/>
<line x1="839" y1="752" x2="839" y2="1229" stroke="#d2d2d2" stroke-width="1.5"/>
<line x1="603.6" y1="1229" x2="917.5" y2="1229" stroke="#d2d2d2" stroke-width="1.5"/>
<line x1="603.6" y1="1109.8" x2="917.5" y2="1109.8" stroke="#d2d2d2" stroke-width="1.5"/>
<line x1="603.6" y1="990.5" x2="917.5" y2="990.5" stroke="#d2d2d2" stroke-width="1.5"/>
<line x1="603.6" y1="871.2" x2="917.5" y2="871.2" stroke="#d2d2d2" stroke-width="1.5"/>
<line x1="666" y1="752" x2="855" y2="752" stroke="#d2d2d2" stroke-width="1.5"/>
<text transform="translate(596.1 1240.8)" font-size="29" text-anchor="end" fill="#1a1a1a">0.4</text>
<text transform="translate(596.1 1121.5)" font-size="29" text-anchor="end" fill="#1a1a1a">0.45</text>
<text transform="translate(596.1 1002.3)" font-size="29" text-anchor="end" fill="#1a1a1a">0.5</text>
<text transform="translate(596.1 883)" font-size="29" text-anchor="end" fill="#1a1a1a">0.55</text>
<text transform="translate(596.1 763.8)" font-size="29" text-anchor="end" fill="#1a1a1a">0.6</text>
<text transform="translate(613.6 1262.5)" font-size="29" text-anchor="middle" fill="#1a1a1a">-0.2</text>
<text transform="translate(682.1 1262.5)" font-size="29" text-anchor="middle" fill="#1a1a1a">0</text>
<text transform="translate(760.5 1262.5)" font-size="29" text-anchor="middle" fill="#1a1a1a">0.2</text>
<text transform="translate(839 1262.5)" font-size="29" text-anchor="middle" fill="#1a1a1a">0.4</text>
<text transform="translate(917.5 1262.5)" font-size="29" text-anchor="middle" fill="#1a1a1a">0.6</text>
<text transform="translate(759 1307)" font-size="32.5" text-anchor="middle" fill="#1a1a1a">Time from 2nd target view</text>
<clipPath id="c9"><rect x="603.6" y="752" width="314.4" height="477"/></clipPath>
<g clip-path="url(#c9)">
<polygon points="603.6,957.5 613.4,950.4 623.2,927 633,914.8 642.8,914.8 652.6,922.9 662.5,892.4 672.3,859.9 682.1,846.6 691.9,844.6 701.7,853.7 711.5,849.7 721.3,888.3 731.1,896.5 740.9,892.4 750.7,888.3 760.5,853.7 770.4,841.5 780.2,800.8 790,788.6 799.8,811 809.6,795.8 819.4,813 829.2,826.3 839,823.2 848.8,822.2 858.6,820.2 868.5,801.9 878.3,817.1 888.1,849.7 897.9,882.2 907.7,912.8 917.5,945.3 917.5,986 907.7,953.5 897.9,925 888.1,898.5 878.3,870 868.5,858.8 858.6,877.2 848.8,885.3 839,902.6 829.2,909.7 819.4,886.3 809.6,844.6 799.8,888.3 790,868 780.2,870 770.4,894.4 760.5,910.7 750.7,949.4 740.9,945.3 731.1,949.4 721.3,949.4 711.5,906.7 701.7,914.8 691.9,903.6 682.1,909.7 672.3,916.8 662.5,957.5 652.6,977.9 642.8,961.6 633,961.6 623.2,984 613.4,1005.4 603.6,1010.4" fill="#262626" fill-opacity="0.28"/>
<polygon points="603.6,991.1 613.4,989.1 623.2,959.6 633,966.7 642.8,987 652.6,1006.4 662.5,983 672.3,960.6 682.1,966.7 691.9,984 701.7,989.1 711.5,955.5 721.3,955.5 731.1,973.8 740.9,990.1 750.7,996.2 760.5,1041 770.4,1081.7 780.2,1066.4 790,1085.7 799.8,1096.9 809.6,1121.3 819.4,1118.3 829.2,1129.5 839,1135.6 848.8,1091.8 858.6,1095.9 868.5,1067.4 878.3,1057.2 888.1,1044 897.9,1066.4 907.7,1062.3 917.5,1065.4 917.5,1130.5 907.7,1129.5 897.9,1127.5 888.1,1099 878.3,1118.3 868.5,1132.5 858.6,1161 848.8,1148.8 839,1206.8 829.2,1198.7 819.4,1191.6 809.6,1202.7 799.8,1174.3 790,1161 780.2,1147.8 770.4,1136.6 760.5,1097.9 750.7,1057.2 740.9,1045 731.1,1014.5 721.3,988.1 711.5,986 701.7,1019.6 691.9,1014.5 682.1,997.2 672.3,991.1 662.5,1013.5 652.6,1036.9 642.8,1017.6 633,997.2 623.2,990.1 613.4,1019.6 603.6,1021.6" fill="#0f66b2" fill-opacity="0.28"/>
</g>
<line x1="682.1" y1="752" x2="682.1" y2="1229" stroke="#000" stroke-width="1.6"/>
<line x1="603.6" y1="990.5" x2="917.5" y2="990.5" stroke="#000" stroke-width="1.6"/>
<clipPath id="c10"><rect x="603.6" y="752" width="316.9" height="477"/></clipPath>
<g clip-path="url(#c10)">
<polyline points="603.6,1057.2 613.4,1024.7 623.2,1005.4 633,1010.4 642.8,1012.5 652.6,1016.5 662.5,1008.4 672.3,996.2 682.1,994.2 691.9,1004.3 701.7,1005.4 711.5,999.3 721.3,997.2 731.1,1001.3 740.9,1001.3 750.7,1002.3 760.5,990.1 770.4,989.1 780.2,994.2 790,993.1 799.8,986 809.6,976.9 819.4,978.9 829.2,983 839,982 848.8,973.8 858.6,988.1 868.5,982 878.3,996.2 888.1,994.2 897.9,997.2 907.7,1004.3 917.5,1016.5" fill="none" stroke="#262626" stroke-width="6.5" stroke-linejoin="bevel" stroke-dasharray="5 5.3"/>
<polyline points="603.6,1016.5 613.4,1022.7 623.2,973.8 633,969.7 642.8,1014.5 652.6,1049.1 662.5,1016.5 672.3,979.9 682.1,963.6 691.9,973.8 701.7,982 711.5,967.7 721.3,951.4 731.1,973.8 740.9,986 750.7,994.2 760.5,996.2 770.4,1000.3 780.2,1003.3 790,1004.3 799.8,1008.4 809.6,1015.5 819.4,1020.6 829.2,1018.6 839,1008.4 848.8,1002.3 858.6,1013.5 868.5,1006.4 878.3,1014.5 888.1,995.2 897.9,1002.3 907.7,1006.4 917.5,1018.6" fill="none" stroke="#0f66b2" stroke-width="6.5" stroke-linejoin="bevel" stroke-dasharray="5 5.3"/>
<polyline transform="translate(603.6 0) scale(0.86 1)" points="0,984 11.4,977.9 22.8,955.5 34.2,938.2 45.6,938.2 57,950.4 68.4,925 79.8,888.3 91.3,878.2 102.7,874.1 114.1,884.3 125.5,878.2 136.9,918.9 148.3,922.9 159.7,918.9 171.1,918.9 182.5,882.2 193.9,868 205.3,835.4 216.7,828.3 228.1,849.7 239.5,820.2 250.9,849.7 262.3,868 273.8,862.9 285.2,853.7 296.6,848.7 308,830.3 319.4,843.6 330.8,874.1 342.2,903.6 353.6,933.1 365,965.7" fill="none" stroke="#262626" stroke-width="7.0" stroke-linejoin="round"/>
<polyline transform="translate(603.6 0) scale(0.86 1)" points="0,1006.4 11.4,1004.3 22.8,974.8 34.2,982 45.6,1002.3 57,1021.6 68.4,998.2 79.8,975.8 91.3,982 102.7,999.3 114.1,1004.3 125.5,970.8 136.9,971.8 148.3,994.2 159.7,1017.6 171.1,1026.7 182.5,1069.5 193.9,1109.1 205.3,1107.1 216.7,1123.4 228.1,1135.6 239.5,1162 250.9,1154.9 262.3,1164.1 273.8,1171.2 285.2,1120.3 296.6,1128.5 308,1100 319.4,1087.8 330.8,1071.5 342.2,1096.9 353.6,1095.9 365,1097.9" fill="none" stroke="#0f66b2" stroke-width="7.0" stroke-linejoin="round"/>
</g>
<rect x="777.2" y="763.8" width="6" height="6" fill="#262626"/>
<rect x="806.6" y="763.8" width="6" height="6" fill="#262626"/>
<rect x="845.8" y="763.8" width="6" height="6" fill="#262626"/>
<rect x="855.6" y="763.8" width="6" height="6" fill="#262626"/>
<rect x="865.5" y="763.8" width="6" height="6" fill="#262626"/>
<rect x="875.3" y="763.8" width="6" height="6" fill="#262626"/>
<rect x="885.1" y="763.8" width="6" height="6" fill="#262626"/>
<rect x="894.9" y="763.8" width="6" height="6" fill="#262626"/>
<rect x="767.4" y="778.6" width="6" height="6" fill="#0f66b2"/>
<rect x="806.6" y="778.6" width="6" height="6" fill="#0f66b2"/>
<rect x="816.4" y="778.6" width="6" height="6" fill="#0f66b2"/>
<rect x="826.2" y="778.6" width="6" height="6" fill="#0f66b2"/>
<rect x="836" y="778.6" width="6" height="6" fill="#0f66b2"/>
<rect x="845.8" y="778.6" width="6" height="6" fill="#0f66b2"/>
<rect x="855.6" y="778.6" width="6" height="6" fill="#0f66b2"/>
<line x1="779.9" y1="1223" x2="917.5" y2="1223" stroke="#808080" stroke-width="1.4"/>
<rect x="830.8" y="1218" width="59.2" height="10" fill="#fff" stroke="#808080" stroke-width="1.4"/>
<rect x="854.8" y="1218" width="6" height="10" fill="#808080"/>
<path d="M603.6 751.2 V1229 H918.3" fill="none" stroke="#262626" stroke-width="1.7"/>
<path d="M603.6 1229h5.5M603.6 1109.8h5.5M603.6 990.5h5.5M603.6 871.2h5.5M603.6 752h5.5M603.6 1229v-5.5M682.1 1229v-5.5M760.5 1229v-5.5M839 1229v-5.5" fill="none" stroke="#262626" stroke-width="1.7"/>
<line x1="1034" y1="1203.9" x2="1339.4" y2="1203.9" stroke="#666" stroke-width="1.5"/>
<line x1="1034" y1="1090.8" x2="1339.4" y2="1090.8" stroke="#666" stroke-width="1.5"/>
<line x1="1034" y1="864.7" x2="1339.4" y2="864.7" stroke="#666" stroke-width="1.5"/>
<line x1="1034" y1="751.6" x2="1339.4" y2="751.6" stroke="#666" stroke-width="1.5"/>
<line x1="1034" y1="977.8" x2="1339.4" y2="977.8" stroke="#262626" stroke-width="1.6"/>
<path d="M1034 750.8 V1204.7" fill="none" stroke="#262626" stroke-width="1.7"/>
<text transform="translate(1021.3 1213.9)" font-size="32.2" text-anchor="end" fill="#1a1a1a">-0.2</text>
<text transform="translate(1021.3 987.8)" font-size="32.2" text-anchor="end" fill="#1a1a1a">0</text>
<text transform="translate(1021.3 761.6)" font-size="32.2" text-anchor="end" fill="#1a1a1a">0.2</text>
<path d="M1034 1203.9h5.5M1034 977.8h5.5" fill="none" stroke="#262626" stroke-width="1.7"/>
<text transform="translate(982 981.2) rotate(-90)" font-size="32.3" text-anchor="middle" fill="#1a1a1a">AUC difference from 0.5</text>
<line x1="1094" y1="1045.6" x2="1094" y2="805.9" stroke="#000" stroke-width="1.5"/>
<line x1="1087" y1="1045.6" x2="1101" y2="1045.6" stroke="#000" stroke-width="1.5"/>
<line x1="1087" y1="805.9" x2="1101" y2="805.9" stroke="#000" stroke-width="1.5"/>
<rect x="1079.5" y="859" width="29" height="118.7" fill="#262626"/>
<rect x="1078.5" y="882.5" width="31" height="7.4" fill="#fff"/>
<line x1="1094" y1="1213.9" x2="1094" y2="1219.4" stroke="#262626" stroke-width="1.6"/>
<text transform="translate(1120.5 1245.9) rotate(-60) scale(0.840 1)" font-size="32.5" text-anchor="end" fill="#1a1a1a">1st val</text>
<line x1="1138" y1="1045.6" x2="1138" y2="805.9" stroke="#000" stroke-width="1.5"/>
<line x1="1131" y1="1045.6" x2="1145" y2="1045.6" stroke="#000" stroke-width="1.5"/>
<line x1="1131" y1="805.9" x2="1145" y2="805.9" stroke="#000" stroke-width="1.5"/>
<rect x="1123.5" y="859" width="29" height="118.7" fill="#0a5a9e"/>
<rect x="1122.5" y="882.5" width="31" height="7.4" fill="#fff"/>
<line x1="1138" y1="1213.9" x2="1138" y2="1219.4" stroke="#262626" stroke-width="1.6"/>
<text transform="translate(1164.5 1245.9) rotate(-60) scale(0.840 1)" font-size="32.5" text-anchor="end" fill="#1a1a1a">2nd val</text>
<line x1="1236" y1="1153" x2="1236" y2="776.5" stroke="#000" stroke-width="1.5"/>
<line x1="1229" y1="1153" x2="1243" y2="1153" stroke="#000" stroke-width="1.5"/>
<line x1="1229" y1="776.5" x2="1243" y2="776.5" stroke="#000" stroke-width="1.5"/>
<rect x="1221.5" y="931.4" width="29" height="93.9" fill="#262626"/>
<rect x="1220.5" y="971.8" width="31" height="7.4" fill="#fff"/>
<line x1="1236" y1="1213.9" x2="1236" y2="1219.4" stroke="#262626" stroke-width="1.6"/>
<text transform="translate(1262.5 1245.9) rotate(-60) scale(0.840 1)" font-size="32.5" text-anchor="end" fill="#1a1a1a">1st val</text>
<line x1="1280" y1="1153" x2="1280" y2="776.5" stroke="#000" stroke-width="1.5"/>
<line x1="1273" y1="1153" x2="1287" y2="1153" stroke="#000" stroke-width="1.5"/>
<line x1="1273" y1="776.5" x2="1287" y2="776.5" stroke="#000" stroke-width="1.5"/>
<rect x="1265.5" y="926.9" width="29" height="83.7" fill="#0a5a9e"/>
<rect x="1264.5" y="968.4" width="31" height="7.4" fill="#fff"/>
<line x1="1280" y1="1213.9" x2="1280" y2="1219.4" stroke="#262626" stroke-width="1.6"/>
<text transform="translate(1306.5 1245.9) rotate(-60) scale(0.840 1)" font-size="32.5" text-anchor="end" fill="#1a1a1a">2nd val</text>
<text transform="translate(1111 1359) scale(0.810 1)" font-size="33.5" text-anchor="middle" fill="#1a1a1a">Population</text>
<text transform="translate(1257 1359) scale(0.810 1)" font-size="33.5" text-anchor="middle" fill="#1a1a1a">Single</text>
<line x1="1138" y1="743" x2="1278" y2="743" stroke="#4d4d4d" stroke-width="1.3"/>
<text transform="translate(1205 737) scale(0.790 1)" font-size="23" text-anchor="middle" fill="#666">p = 0.0003</text>
<line x1="1094" y1="771.5" x2="1235" y2="771.5" stroke="#4d4d4d" stroke-width="1.3"/>
<text transform="translate(1160 794) scale(0.790 1)" font-size="23" text-anchor="middle" fill="#666">p = 0.0003</text>
<line x1="1477.2" y1="751.5" x2="1477.2" y2="1229.2" stroke="#d2d2d2" stroke-width="1.5"/>
<line x1="1578.4" y1="751.5" x2="1578.4" y2="1229.2" stroke="#d2d2d2" stroke-width="1.5"/>
<line x1="1679.6" y1="751.5" x2="1679.6" y2="1229.2" stroke="#d2d2d2" stroke-width="1.5"/>
<line x1="1467.5" y1="1229.2" x2="1780.8" y2="1229.2" stroke="#d2d2d2" stroke-width="1.5"/>
<line x1="1467.5" y1="1109.8" x2="1780.8" y2="1109.8" stroke="#d2d2d2" stroke-width="1.5"/>
<line x1="1467.5" y1="990.4" x2="1780.8" y2="990.4" stroke="#d2d2d2" stroke-width="1.5"/>
<line x1="1467.5" y1="870.9" x2="1780.8" y2="870.9" stroke="#d2d2d2" stroke-width="1.5"/>
<line x1="1467.5" y1="751.5" x2="1780.8" y2="751.5" stroke="#d2d2d2" stroke-width="1.5"/>
<line x1="1467.5" y1="751.5" x2="1780.8" y2="751.5" stroke="#d2d2d2" stroke-width="1.5"/>
<line x1="1780.8" y1="751.5" x2="1780.8" y2="1229.2" stroke="#d2d2d2" stroke-width="1.5"/>
<text transform="translate(1460 1239.6)" font-size="29" text-anchor="end" fill="#1a1a1a">0.4</text>
<text transform="translate(1460 1120.2)" font-size="29" text-anchor="end" fill="#1a1a1a">0.45</text>
<text transform="translate(1460 1000.8)" font-size="29" text-anchor="end" fill="#1a1a1a">0.5</text>
<text transform="translate(1460 881.3)" font-size="29" text-anchor="end" fill="#1a1a1a">0.55</text>
<text transform="translate(1460 761.9)" font-size="29" text-anchor="end" fill="#1a1a1a">0.6</text>
<text transform="translate(1477.2 1265.2)" font-size="29" text-anchor="middle" fill="#1a1a1a">0</text>
<text transform="translate(1578.4 1265.2)" font-size="29" text-anchor="middle" fill="#1a1a1a">10</text>
<text transform="translate(1679.6 1265.2)" font-size="29" text-anchor="middle" fill="#1a1a1a">20</text>
<text transform="translate(1780.8 1265.2)" font-size="29" text-anchor="middle" fill="#1a1a1a">30</text>
<text transform="translate(1622.7 1307.2)" font-size="32.5" text-anchor="middle" fill="#1a1a1a"># of cells removed</text>
<text transform="translate(1391.5 990.4) rotate(-90)" font-size="32.7" text-anchor="middle" fill="#1a1a1a">Area under ROC curve (AUC)</text>
<clipPath id="c11"><rect x="1467.5" y="751.5" width="313.8" height="477.7"/></clipPath>
<g clip-path="url(#c11)">
<polygon points="1477.2,809.4 1487.3,785.9 1497.4,798.2 1507.6,822.6 1517.7,829.8 1527.8,872.6 1537.9,883.2 1548,883.8 1558.2,911.3 1568.3,901.7 1578.4,915.4 1588.5,907.2 1598.6,902.7 1608.8,961.2 1618.9,969.4 1629,965.3 1639.1,968.3 1649.2,968.3 1659.4,974.5 1669.5,980.6 1679.6,991.2 1689.7,990.4 1699.8,990.4 1710,990.4 1720.1,990.4 1730.2,990.4 1740.3,990.4 1750.4,990.4 1760.6,990.4 1770.7,990.4 1770.7,990.4 1760.6,990.4 1750.4,990.4 1740.3,990.4 1730.2,990.4 1720.1,990.4 1710,990.4 1699.8,990.4 1689.7,990.4 1679.6,991.2 1669.5,990.8 1659.4,988.7 1649.2,988.7 1639.1,990.8 1629,991 1618.9,993.8 1608.8,987.7 1598.6,951.6 1588.5,952 1578.4,954.1 1568.3,947.3 1558.2,958.2 1548,940.8 1537.9,931.2 1527.8,923.5 1517.7,886.8 1507.6,877.7 1497.4,861.3 1487.3,857.3 1477.2,884.8" fill="#262626" fill-opacity="0.2"/>
<polygon points="1477.2,1096.7 1487.3,1114.5 1497.4,1123.2 1507.6,1122.2 1517.7,1099.8 1527.8,1077.4 1537.9,1082.5 1548,1066.2 1558.2,1040.7 1568.3,1039.7 1578.4,1009.1 1588.5,1009.1 1598.6,1015.2 1608.8,1010.1 1618.9,999.5 1629,1003 1639.1,1000.9 1649.2,1002 1659.4,997.9 1669.5,994.8 1679.6,993.8 1689.7,988.7 1699.8,990.8 1710,980.6 1720.1,989.7 1730.2,992.8 1740.3,992.8 1750.4,990.4 1760.6,990.4 1770.7,990.4 1770.7,990.4 1760.6,990.4 1750.4,990.4 1740.3,1007.1 1730.2,1005 1720.1,1004 1710,998.9 1699.8,1005 1689.7,1011.1 1679.6,1022.3 1669.5,1015.2 1659.4,1014.2 1649.2,1028.5 1639.1,1023.4 1629,1041.7 1618.9,1024.8 1608.8,1046.8 1598.6,1053.9 1588.5,1045.8 1578.4,1039.7 1568.3,1088.6 1558.2,1089.6 1548,1111 1537.9,1145.6 1527.8,1136.5 1517.7,1163 1507.6,1193.5 1497.4,1196.6 1487.3,1189.1 1477.2,1176.2" fill="#0f66b2" fill-opacity="0.2"/>
</g>
<line x1="1467.5" y1="990.4" x2="1780.8" y2="990.4" stroke="#000" stroke-width="1.6"/>
<clipPath id="c12"><rect x="1467.5" y="751.5" width="316.3" height="477.7"/></clipPath>
<g clip-path="url(#c12)">
<polyline transform="translate(1467.5 0) scale(0.86 1)" points="11.3,847.1 23,821.6 34.8,829.8 46.6,850.1 58.3,858.3 70.1,898 81.9,907.2 93.7,912.3 105.4,934.7 117.2,924.5 129,934.7 140.7,929.6 152.5,927.2 164.3,974.5 176,981.6 187.8,978.1 199.6,979.5 211.3,978.5 223.1,981.6 234.9,985.7 246.6,991.2 258.4,990.4 270.2,990.4 281.9,990.4 293.7,990.4 305.5,990.4 317.2,990.4 329,990.4 340.8,990.4 352.5,990.4" fill="none" stroke="#262626" stroke-width="7.0" stroke-linejoin="round"/>
<polyline transform="translate(1467.5 0) scale(0.86 1)" points="11.3,1136.5 23,1151.8 34.8,1159.9 46.6,1157.9 58.3,1131.4 70.1,1106.9 81.9,1114.1 93.7,1088.6 105.4,1065.1 117.2,1064.1 129,1024.4 140.7,1027.4 152.5,1034.6 164.3,1028.5 176,1012.2 187.8,1022.3 199.6,1012.2 211.3,1015.2 223.1,1006 234.9,1005 246.6,1008.1 258.4,999.9 270.2,997.9 281.9,989.7 293.7,996.9 305.5,998.9 317.2,999.9 329,990.4 340.8,990.4 352.5,990.4" fill="none" stroke="#0f66b2" stroke-width="7.0" stroke-linejoin="round"/>
</g>
<rect x="1473.4" y="762" width="7.6" height="7.6" fill="#262626"/>
<rect x="1483.5" y="762" width="7.6" height="7.6" fill="#262626"/>
<rect x="1493.6" y="762" width="7.6" height="7.6" fill="#262626"/>
<rect x="1503.8" y="762" width="7.6" height="7.6" fill="#262626"/>
<rect x="1513.9" y="762" width="7.6" height="7.6" fill="#262626"/>
<rect x="1524" y="762" width="7.6" height="7.6" fill="#262626"/>
<rect x="1534.1" y="762" width="7.6" height="7.6" fill="#262626"/>
<rect x="1545" y="762.8" width="6.1" height="6.1" fill="#fff" stroke="#262626" stroke-width="1.5"/>
<rect x="1555.1" y="762.8" width="6.1" height="6.1" fill="#fff" stroke="#262626" stroke-width="1.5"/>
<rect x="1565.2" y="762.8" width="6.1" height="6.1" fill="#fff" stroke="#262626" stroke-width="1.5"/>
<rect x="1575.4" y="762.8" width="6.1" height="6.1" fill="#fff" stroke="#262626" stroke-width="1.5"/>
<rect x="1585.5" y="762.8" width="6.1" height="6.1" fill="#fff" stroke="#262626" stroke-width="1.5"/>
<rect x="1595.6" y="762.8" width="6.1" height="6.1" fill="#fff" stroke="#262626" stroke-width="1.5"/>
<rect x="1473.4" y="776.4" width="7.6" height="7.6" fill="#0f66b2"/>
<rect x="1483.5" y="776.4" width="7.6" height="7.6" fill="#0f66b2"/>
<rect x="1493.6" y="776.4" width="7.6" height="7.6" fill="#0f66b2"/>
<rect x="1503.8" y="776.4" width="7.6" height="7.6" fill="#0f66b2"/>
<rect x="1513.9" y="776.4" width="7.6" height="7.6" fill="#0f66b2"/>
<rect x="1524" y="776.4" width="7.6" height="7.6" fill="#0f66b2"/>
<rect x="1534.1" y="776.4" width="7.6" height="7.6" fill="#0f66b2"/>
<rect x="1544.2" y="776.4" width="7.6" height="7.6" fill="#0f66b2"/>
<rect x="1555.1" y="777.1" width="6.1" height="6.1" fill="#fff" stroke="#0f66b2" stroke-width="1.5"/>
<rect x="1565.2" y="777.1" width="6.1" height="6.1" fill="#fff" stroke="#0f66b2" stroke-width="1.5"/>
<rect x="1595.6" y="777.1" width="6.1" height="6.1" fill="#fff" stroke="#0f66b2" stroke-width="1.5"/>
<path d="M1467.5 750.7 V1229.2 H1781.6" fill="none" stroke="#262626" stroke-width="1.7"/>
<path d="M1467.5 1229.2h5.5M1467.5 1109.8h5.5M1467.5 990.4h5.5M1467.5 870.9h5.5M1467.5 751.5h5.5M1477.2 1229.2v-5.5M1578.4 1229.2v-5.5M1679.6 1229.2v-5.5M1780.8 1229.2v-5.5" fill="none" stroke="#262626" stroke-width="1.7"/>
<line x1="188" y1="1488.3" x2="188" y2="1965.9" stroke="#d2d2d2" stroke-width="1.5"/>
<line x1="309.2" y1="1488.3" x2="309.2" y2="1965.9" stroke="#d2d2d2" stroke-width="1.5"/>
<line x1="430.3" y1="1488.3" x2="430.3" y2="1965.9" stroke="#d2d2d2" stroke-width="1.5"/>
<line x1="551.5" y1="1488.3" x2="551.5" y2="1965.9" stroke="#d2d2d2" stroke-width="1.5"/>
<line x1="672.7" y1="1488.3" x2="672.7" y2="1965.9" stroke="#d2d2d2" stroke-width="1.5"/>
<line x1="793.8" y1="1488.3" x2="793.8" y2="1965.9" stroke="#d2d2d2" stroke-width="1.5"/>
<line x1="915" y1="1488.3" x2="915" y2="1965.9" stroke="#d2d2d2" stroke-width="1.5"/>
<line x1="188" y1="1965.9" x2="915" y2="1965.9" stroke="#d2d2d2" stroke-width="1.5"/>
<line x1="188" y1="1846.5" x2="915" y2="1846.5" stroke="#d2d2d2" stroke-width="1.5"/>
<line x1="188" y1="1727.1" x2="915" y2="1727.1" stroke="#d2d2d2" stroke-width="1.5"/>
<line x1="188" y1="1607.7" x2="915" y2="1607.7" stroke="#d2d2d2" stroke-width="1.5"/>
<line x1="188" y1="1488.3" x2="915" y2="1488.3" stroke="#d2d2d2" stroke-width="1.5"/>
<text transform="translate(175.3 1979.2)" font-size="32.8" text-anchor="end" fill="#1a1a1a">0.4</text>
<text transform="translate(175.3 1740.4)" font-size="32.8" text-anchor="end" fill="#1a1a1a">0.5</text>
<text transform="translate(175.3 1501.6)" font-size="32.8" text-anchor="end" fill="#1a1a1a">0.6</text>
<text transform="translate(186.5 2012.3)" font-size="32.8" text-anchor="middle" fill="#1a1a1a">-1</text>
<text transform="translate(307.7 2012.3)" font-size="32.8" text-anchor="middle" fill="#1a1a1a">-0.8</text>
<text transform="translate(428.8 2012.3)" font-size="32.8" text-anchor="middle" fill="#1a1a1a">-0.6</text>
<text transform="translate(550 2012.3)" font-size="32.8" text-anchor="middle" fill="#1a1a1a">-0.4</text>
<text transform="translate(671.2 2012.3)" font-size="32.8" text-anchor="middle" fill="#1a1a1a">-0.2</text>
<text transform="translate(793.8 2012.3)" font-size="32.8" text-anchor="middle" fill="#1a1a1a">0</text>
<text transform="translate(915 2012.3)" font-size="32.8" text-anchor="middle" fill="#1a1a1a">0.2</text>
<text transform="translate(551.5 2060.9)" font-size="36.5" text-anchor="middle" fill="#1a1a1a">Time from lever lift</text>
<text transform="translate(112 1727.1) rotate(-90)" font-size="32.7" text-anchor="middle" fill="#1a1a1a">Area under ROC curve (AUC)</text>
<clipPath id="c13"><rect x="188" y="1488.3" width="727.5" height="477.6"/></clipPath>
<g clip-path="url(#c13)">
<polygon points="188,1684.1 203.1,1701.5 218.3,1703.9 233.4,1702.7 248.6,1716.6 263.7,1722.5 278.9,1737.6 294,1723.6 309.2,1730.6 324.3,1716.6 339.5,1739.9 354.6,1746.8 369.8,1735.2 384.9,1719 400,1730.6 415.2,1737.6 430.3,1730.6 445.5,1722.5 460.6,1729.4 475.8,1728.3 490.9,1706.2 506.1,1686.4 521.2,1696.9 536.4,1691.1 551.5,1699.2 566.6,1692.3 581.8,1702.1 596.9,1712 612.1,1739.3 627.2,1752.7 642.4,1744.5 657.5,1753.8 672.7,1765.4 687.8,1758.5 703,1731 718.1,1690 733.2,1647 748.4,1607 763.5,1600.5 778.7,1606.3 793.8,1606.3 809,1606.3 824.1,1622.6 839.3,1645.8 854.4,1651.6 869.6,1655.1 884.7,1673.7 899.9,1651.6 915,1647 915,1702.7 899.9,1705 884.7,1722.5 869.6,1699.2 854.4,1700.4 839.3,1692.3 824.1,1680.6 809,1662.1 793.8,1666.7 778.7,1659.7 763.5,1651.6 748.4,1660.4 733.2,1693.4 718.1,1737.2 703,1779 687.8,1807.2 672.7,1816.5 657.5,1800.3 642.4,1786.3 627.2,1794.5 612.1,1777.6 596.9,1746.8 581.8,1733.5 566.6,1720.1 551.5,1720.1 536.4,1712 521.2,1717.8 506.1,1707.4 490.9,1727.1 475.8,1749.2 460.6,1750.3 445.5,1743.4 430.3,1751.5 415.2,1758.5 400,1751.5 384.9,1739.9 369.8,1756.1 354.6,1767.8 339.5,1760.8 324.3,1737.6 309.2,1751.5 294,1744.5 278.9,1758.5 263.7,1743.4 248.6,1737.6 233.4,1723.6 218.3,1724.8 203.1,1722.5 188,1705" fill="#262626" fill-opacity="0.28"/>
<polygon points="188,1712 203.1,1716.7 218.3,1721.3 233.4,1705.1 248.6,1707.4 263.7,1714.4 278.9,1706.3 294,1728.4 309.2,1719.1 324.3,1720.3 339.5,1729.6 354.6,1738.9 369.8,1744.8 384.9,1740.1 400,1715.8 415.2,1705.3 430.3,1710 445.5,1700.7 460.6,1690.3 475.8,1698.4 490.9,1706.6 506.1,1700.8 521.2,1728.7 536.4,1721.7 551.5,1726.4 566.6,1734.7 581.8,1731.3 596.9,1740.8 612.1,1746.7 627.2,1777 642.4,1780.1 657.5,1807.6 672.7,1835.1 687.8,1839.8 703,1838.6 718.1,1840.3 733.2,1843.2 748.4,1825.8 763.5,1820 778.7,1816.5 793.8,1789.1 809,1788.3 824.1,1779.4 839.3,1775.9 854.4,1798 869.6,1795.6 884.7,1817.7 899.9,1806.1 915,1798 915,1846.7 899.9,1850.2 884.7,1866.5 869.6,1851.4 854.4,1858.3 839.3,1834 824.1,1832.8 809,1842.4 793.8,1843.9 778.7,1867.6 763.5,1868.8 748.4,1872.3 733.2,1896.7 718.1,1890.3 703,1885.1 687.8,1883.9 672.7,1876.9 657.5,1846.3 642.4,1815.8 627.2,1809.6 612.1,1777.2 596.9,1769.2 581.8,1757.7 566.6,1759 551.5,1748.7 536.4,1744.1 521.2,1751.1 506.1,1723.2 490.9,1729 475.8,1720.9 460.6,1712.8 445.5,1723.3 430.3,1732.6 415.2,1728 400,1738.4 384.9,1762.9 369.8,1767.5 354.6,1761.7 339.5,1752.5 324.3,1743.2 309.2,1742 294,1751.4 278.9,1729.3 263.7,1737.5 248.6,1730.5 233.4,1728.2 218.3,1744.5 203.1,1739.9 188,1735.2" fill="#0f66b2" fill-opacity="0.28"/>
</g>
<line x1="793.8" y1="1488.3" x2="793.8" y2="1965.9" stroke="#000" stroke-width="1.6"/>
<line x1="188" y1="1727.1" x2="915" y2="1727.1" stroke="#000" stroke-width="1.6"/>
<clipPath id="c14"><rect x="188" y="1488.3" width="730" height="477.6"/></clipPath>
<g clip-path="url(#c14)">
<polyline transform="translate(188 0) scale(1.22 1)" points="0,1694.6 12.4,1712 24.8,1714.3 37.2,1713.2 49.7,1727.1 62.1,1732.9 74.5,1748 86.9,1734.1 99.3,1741 111.7,1727.1 124.1,1750.3 136.6,1757.3 149,1745.7 161.4,1729.4 173.8,1741 186.2,1748 198.6,1741 211,1732.9 223.5,1739.9 235.9,1738.7 248.3,1716.6 260.7,1696.9 273.1,1707.4 285.5,1701.5 298,1709.7 310.4,1706.2 322.8,1717.8 335.2,1729.4 347.6,1758.5 360,1773.6 372.4,1765.4 384.9,1777 397.3,1791 409.7,1782.9 422.1,1755 434.5,1713.6 446.9,1670.2 459.3,1633.7 471.8,1626.1 484.2,1633 496.6,1636.5 509,1634.2 521.4,1651.6 533.8,1669 546.2,1676 558.7,1677.2 571.1,1698.1 583.5,1678.3 595.9,1674.8" fill="none" stroke="#262626" stroke-width="6.4" stroke-linejoin="round"/>
<polyline transform="translate(188 0) scale(1.22 1)" points="0,1723.6 12.4,1728.3 24.8,1732.9 37.2,1716.6 49.7,1719 62.1,1725.9 74.5,1717.8 86.9,1739.9 99.3,1730.6 111.7,1731.7 124.1,1741 136.6,1750.3 149,1756.1 161.4,1751.5 173.8,1727.1 186.2,1716.6 198.6,1721.3 211,1712 223.5,1701.5 235.9,1709.7 248.3,1717.8 260.7,1712 273.1,1739.9 285.5,1732.9 298,1737.6 310.4,1746.8 322.8,1744.5 335.2,1755 347.6,1761.9 360,1793.3 372.4,1798 384.9,1827 397.3,1856 409.7,1861.8 422.1,1861.8 434.5,1865.3 446.9,1870 459.3,1849.1 471.8,1844.4 484.2,1842.1 496.6,1816.5 509,1815.4 521.4,1806.1 533.8,1804.9 546.2,1828.1 558.7,1823.5 571.1,1842.1 583.5,1828.1 595.9,1822.3" fill="none" stroke="#0f66b2" stroke-width="6.4" stroke-linejoin="round"/>
</g>
<rect x="761.7" y="1497.4" width="6.2" height="6.2" fill="#262626"/>
<rect x="655.6" y="1512.4" width="6.2" height="6.2" fill="#0f66b2"/>
<rect x="670.8" y="1512.4" width="6.2" height="6.2" fill="#0f66b2"/>
<rect x="685.9" y="1512.4" width="6.2" height="6.2" fill="#0f66b2"/>
<rect x="701.1" y="1512.4" width="6.2" height="6.2" fill="#0f66b2"/>
<rect x="716.2" y="1512.4" width="6.2" height="6.2" fill="#0f66b2"/>
<rect x="731.4" y="1512.4" width="6.2" height="6.2" fill="#0f66b2"/>
<rect x="746.5" y="1512.4" width="6.2" height="6.2" fill="#0f66b2"/>
<rect x="761.7" y="1512.4" width="6.2" height="6.2" fill="#0f66b2"/>
<rect x="776.8" y="1512.4" width="6.2" height="6.2" fill="#0f66b2"/>
<rect x="882.8" y="1512.4" width="6.2" height="6.2" fill="#0f66b2"/>
<rect x="898" y="1512.4" width="6.2" height="6.2" fill="#0f66b2"/>
<rect x="913.1" y="1512.4" width="6.2" height="6.2" fill="#0f66b2"/>
<path d="M188 1487.5 V1965.9 H915.8" fill="none" stroke="#262626" stroke-width="1.7"/>
<path d="M188 1965.9h5.5M188 1846.5h5.5M188 1727.1h5.5M188 1607.7h5.5M188 1488.3h5.5M188 1965.9v-5.5M309.2 1965.9v-5.5M430.3 1965.9v-5.5M551.5 1965.9v-5.5M672.7 1965.9v-5.5M793.8 1965.9v-5.5M915 1965.9v-5.5" fill="none" stroke="#262626" stroke-width="1.7"/>
<text transform="translate(297 1926.7) scale(0.82 1)" font-size="29.4" fill="#111">1st targ. view</text>
<text transform="translate(507 1944) scale(0.82 1)" font-size="29.4" fill="#0f5fa8">2nd targ. view</text>
<line x1="188" y1="1946.9" x2="496.7" y2="1946.9" stroke="#262626" stroke-width="1.5"/>
<rect x="323.1" y="1941.4" width="107.29999999999995" height="11" fill="#fff" stroke="#262626" stroke-width="1.5"/>
<rect x="380.0" y="1941.4" width="6" height="11" fill="#262626"/>
<line x1="319.2" y1="1959.3" x2="641.5" y2="1959.3" stroke="#0f5fa8" stroke-width="1.5"/>
<rect x="471.7" y="1953.8" width="99.00000000000006" height="11" fill="#fff" stroke="#0f5fa8" stroke-width="1.5"/>
<rect x="524.0" y="1953.8" width="6" height="11" fill="#0f5fa8"/>
<line x1="1054.5" y1="1488.2" x2="1054.5" y2="1966.2" stroke="#d2d2d2" stroke-width="1.5"/>
<line x1="1132" y1="1488.2" x2="1132" y2="1966.2" stroke="#d2d2d2" stroke-width="1.5"/>
<line x1="1209.5" y1="1488.2" x2="1209.5" y2="1966.2" stroke="#d2d2d2" stroke-width="1.5"/>
<line x1="1287" y1="1488.2" x2="1287" y2="1966.2" stroke="#d2d2d2" stroke-width="1.5"/>
<line x1="1054.5" y1="1966.2" x2="1364.5" y2="1966.2" stroke="#d2d2d2" stroke-width="1.5"/>
<line x1="1054.5" y1="1870.6" x2="1364.5" y2="1870.6" stroke="#d2d2d2" stroke-width="1.5"/>
<line x1="1054.5" y1="1775" x2="1364.5" y2="1775" stroke="#d2d2d2" stroke-width="1.5"/>
<line x1="1054.5" y1="1679.4" x2="1364.5" y2="1679.4" stroke="#d2d2d2" stroke-width="1.5"/>
<line x1="1054.5" y1="1583.8" x2="1364.5" y2="1583.8" stroke="#d2d2d2" stroke-width="1.5"/>
<line x1="1054.5" y1="1488.2" x2="1364.5" y2="1488.2" stroke="#d2d2d2" stroke-width="1.5"/>
<text transform="translate(1047 1976.6)" font-size="29" text-anchor="end" fill="#1a1a1a">0.4</text>
<text transform="translate(1047 1881)" font-size="29" text-anchor="end" fill="#1a1a1a">0.45</text>
<text transform="translate(1047 1785.4)" font-size="29" text-anchor="end" fill="#1a1a1a">0.5</text>
<text transform="translate(1047 1689.8)" font-size="29" text-anchor="end" fill="#1a1a1a">0.55</text>
<text transform="translate(1047 1594.2)" font-size="29" text-anchor="end" fill="#1a1a1a">0.6</text>
<text transform="translate(1047 1498.6)" font-size="29" text-anchor="end" fill="#1a1a1a">0.65</text>
<text transform="translate(1053 2002.2)" font-size="29" text-anchor="middle" fill="#1a1a1a">-0.2</text>
<text transform="translate(1132 2002.2)" font-size="29" text-anchor="middle" fill="#1a1a1a">0</text>
<text transform="translate(1209.5 2002.2)" font-size="29" text-anchor="middle" fill="#1a1a1a">0.2</text>
<text transform="translate(1287 2002.2)" font-size="29" text-anchor="middle" fill="#1a1a1a">0.4</text>
<text transform="translate(1364.5 2002.2)" font-size="29" text-anchor="middle" fill="#1a1a1a">0.6</text>
<text transform="translate(1208 2045.2)" font-size="32.5" text-anchor="middle" fill="#1a1a1a">Time from 1st target view</text>
<text transform="translate(978.5 1727.2) rotate(-90)" font-size="32.7" text-anchor="middle" fill="#1a1a1a">Area under ROC curve (AUC)</text>
<clipPath id="c15"><rect x="1054.5" y="1488.2" width="310.5" height="478"/></clipPath>
<g clip-path="url(#c15)">
<polygon points="1054.5,1735.7 1064.2,1762.2 1073.9,1732.6 1083.6,1754 1093.2,1749.9 1102.9,1743.8 1112.6,1758.1 1122.3,1750.9 1132,1755 1141.7,1755 1151.4,1748.9 1161.1,1740.8 1170.8,1753 1180.4,1720.4 1190.1,1723.4 1199.8,1722.4 1209.5,1679.6 1219.2,1645 1228.9,1657.2 1238.6,1615.4 1248.2,1617.4 1257.9,1598.1 1267.6,1640.9 1277.3,1652.1 1287,1628.6 1296.7,1578.7 1306.4,1610.3 1316.1,1635.8 1325.8,1636.8 1335.4,1602.1 1345.1,1587.9 1354.8,1569.5 1364.5,1536.9 1364.5,1606.2 1354.8,1640.9 1345.1,1655.1 1335.4,1675.5 1325.8,1704.1 1316.1,1692.9 1306.4,1675.5 1296.7,1656.2 1287,1697.9 1277.3,1745.9 1267.6,1710.2 1257.9,1673.5 1248.2,1688.8 1238.6,1684.7 1228.9,1718.3 1219.2,1718.3 1209.5,1753 1199.8,1791.7 1190.1,1790.7 1180.4,1789.7 1170.8,1801.9 1161.1,1785.6 1151.4,1789.7 1141.7,1795.8 1132,1795.8 1122.3,1789.7 1112.6,1796.8 1102.9,1782.5 1093.2,1788.7 1083.6,1792.7 1073.9,1771.3 1064.2,1800.9 1054.5,1774.4" fill="#262626" fill-opacity="0.28"/>
<polygon points="1054.5,1769.3 1064.2,1742.8 1073.9,1768.3 1083.6,1735.7 1093.2,1741.8 1102.9,1729.5 1112.6,1744.8 1122.3,1769.3 1132,1760.1 1141.7,1758.1 1151.4,1753 1161.1,1746.9 1170.8,1759.1 1180.4,1745.9 1190.1,1771.3 1199.8,1789.7 1209.5,1735.7 1219.2,1740.8 1228.9,1747.9 1238.6,1767.3 1248.2,1744.8 1257.9,1748.9 1267.6,1748.9 1277.3,1781.5 1287,1808 1296.7,1796.8 1306.4,1856.9 1316.1,1858 1325.8,1893.6 1335.4,1881.4 1345.1,1903.8 1354.8,1928.3 1364.5,1887.5 1364.5,1948.7 1354.8,1985.4 1345.1,1965 1335.4,1944.6 1325.8,1954.8 1316.1,1929.3 1306.4,1916.1 1296.7,1858 1287,1863.1 1277.3,1838.6 1267.6,1820.3 1257.9,1810.1 1248.2,1779.5 1238.6,1808 1228.9,1796.8 1219.2,1781.5 1209.5,1784.6 1199.8,1830.4 1190.1,1816.2 1180.4,1794.8 1170.8,1812.1 1161.1,1797.8 1151.4,1803.9 1141.7,1811.1 1132,1819.2 1122.3,1818.2 1112.6,1789.7 1102.9,1772.4 1093.2,1782.5 1083.6,1774.4 1073.9,1805 1064.2,1779.5 1054.5,1806" fill="#0f66b2" fill-opacity="0.28"/>
</g>
<line x1="1132" y1="1488.2" x2="1132" y2="1966.2" stroke="#000" stroke-width="1.6"/>
<line x1="1054.5" y1="1775" x2="1364.5" y2="1775" stroke="#000" stroke-width="1.6"/>
<clipPath id="c16"><rect x="1054.5" y="1488.2" width="313" height="478"/></clipPath>
<g clip-path="url(#c16)">
<polyline transform="translate(1054.5 0) scale(0.86 1)" points="0,1755 11.3,1781.5 22.5,1752 33.8,1773.4 45.1,1769.3 56.3,1763.2 67.6,1777.4 78.9,1770.3 90.1,1775.4 101.4,1775.4 112.6,1769.3 123.9,1763.2 135.2,1777.4 146.4,1755 157.7,1757.1 169,1757.1 180.2,1716.3 191.5,1681.6 202.8,1687.8 214,1650 225.3,1653.1 236.6,1635.8 247.8,1675.5 259.1,1699 270.3,1663.3 281.6,1617.4 292.9,1642.9 304.1,1664.3 315.4,1670.4 326.7,1638.8 337.9,1621.5 349.2,1605.2 360.5,1571.6" fill="none" stroke="#262626" stroke-width="7.0" stroke-linejoin="round"/>
<polyline transform="translate(1054.5 0) scale(0.86 1)" points="0,1787.6 11.3,1761.1 22.5,1786.6 33.8,1755 45.1,1762.2 56.3,1750.9 67.6,1767.3 78.9,1793.8 90.1,1789.7 101.4,1784.6 112.6,1778.5 123.9,1772.4 135.2,1785.6 146.4,1770.3 157.7,1793.8 169,1810.1 180.2,1760.1 191.5,1761.1 202.8,1772.4 214,1787.6 225.3,1762.2 236.6,1779.5 247.8,1784.6 259.1,1810.1 270.3,1835.5 281.6,1827.4 292.9,1886.5 304.1,1893.6 315.4,1924.2 326.7,1913 337.9,1934.4 349.2,1956.8 360.5,1918.1" fill="none" stroke="#0f66b2" stroke-width="7.0" stroke-linejoin="round"/>
</g>
<rect x="1295.2" y="1495.3" width="6" height="6" fill="#262626"/>
<rect x="1314.6" y="1495.3" width="6" height="6" fill="#262626"/>
<rect x="1334" y="1495.3" width="6" height="6" fill="#262626"/>
<rect x="1343.7" y="1495.3" width="6" height="6" fill="#262626"/>
<rect x="1353.4" y="1495.3" width="6" height="6" fill="#262626"/>
<rect x="1363" y="1495.3" width="6" height="6" fill="#262626"/>
<rect x="1304.9" y="1507.6" width="6" height="6" fill="#0f66b2"/>
<rect x="1324.3" y="1507.6" width="6" height="6" fill="#0f66b2"/>
<rect x="1334" y="1507.6" width="6" height="6" fill="#0f66b2"/>
<rect x="1343.7" y="1507.6" width="6" height="6" fill="#0f66b2"/>
<rect x="1353.4" y="1507.6" width="6" height="6" fill="#0f66b2"/>
<rect x="1363" y="1507.6" width="6" height="6" fill="#0f66b2"/>
<line x1="1201.8" y1="1960.8" x2="1252.7" y2="1960.8" stroke="#0f66b2" stroke-width="1.4"/>
<rect x="1214" y="1956.3" width="17.3" height="9" fill="#fff" stroke="#0f66b2" stroke-width="1.4"/>
<rect x="1219.6" y="1956.3" width="6" height="9" fill="#0f66b2"/>
<line x1="1322.1" y1="1960.8" x2="1364.5" y2="1960.8" stroke="#808080" stroke-width="1.4"/>
<rect x="1403.2" y="1956.3" width="-38.2" height="9" fill="#fff" stroke="#808080" stroke-width="1.4"/>
<path d="M1054.5 1487.4 V1966.2 H1365.3" fill="none" stroke="#262626" stroke-width="1.7"/>
<path d="M1054.5 1966.2h5.5M1054.5 1870.6h5.5M1054.5 1775h5.5M1054.5 1679.4h5.5M1054.5 1583.8h5.5M1054.5 1488.2h5.5M1054.5 1966.2v-5.5M1132 1966.2v-5.5M1209.5 1966.2v-5.5M1287 1966.2v-5.5" fill="none" stroke="#262626" stroke-width="1.7"/>
<line x1="1090.3" y1="1891.6" x2="1096.2" y2="1891.6" stroke="#262626" stroke-width="1.6"/>
<line x1="1464.6" y1="1488.2" x2="1464.6" y2="1966.2" stroke="#d2d2d2" stroke-width="1.5"/>
<line x1="1542.9" y1="1488.2" x2="1542.9" y2="1966.2" stroke="#d2d2d2" stroke-width="1.5"/>
<line x1="1621.2" y1="1488.2" x2="1621.2" y2="1966.2" stroke="#d2d2d2" stroke-width="1.5"/>
<line x1="1699.4" y1="1488.2" x2="1699.4" y2="1966.2" stroke="#d2d2d2" stroke-width="1.5"/>
<line x1="1464.6" y1="1966.2" x2="1777.7" y2="1966.2" stroke="#d2d2d2" stroke-width="1.5"/>
<line x1="1464.6" y1="1870.6" x2="1777.7" y2="1870.6" stroke="#d2d2d2" stroke-width="1.5"/>
<line x1="1464.6" y1="1775" x2="1777.7" y2="1775" stroke="#d2d2d2" stroke-width="1.5"/>
<line x1="1464.6" y1="1679.4" x2="1777.7" y2="1679.4" stroke="#d2d2d2" stroke-width="1.5"/>
<line x1="1464.6" y1="1583.8" x2="1777.7" y2="1583.8" stroke="#d2d2d2" stroke-width="1.5"/>
<line x1="1590" y1="1488.2" x2="1778" y2="1488.2" stroke="#d2d2d2" stroke-width="1.5"/>
<text transform="translate(1457.1 1976.6)" font-size="29" text-anchor="end" fill="#1a1a1a">0.4</text>
<text transform="translate(1457.1 1881)" font-size="29" text-anchor="end" fill="#1a1a1a">0.45</text>
<text transform="translate(1457.1 1785.4)" font-size="29" text-anchor="end" fill="#1a1a1a">0.5</text>
<text transform="translate(1457.1 1689.8)" font-size="29" text-anchor="end" fill="#1a1a1a">0.55</text>
<text transform="translate(1457.1 1594.2)" font-size="29" text-anchor="end" fill="#1a1a1a">0.6</text>
<text transform="translate(1457.1 1498.6)" font-size="29" text-anchor="end" fill="#1a1a1a">0.65</text>
<text transform="translate(1463.1 2002.2)" font-size="29" text-anchor="middle" fill="#1a1a1a">-0.2</text>
<text transform="translate(1542.9 2002.2)" font-size="29" text-anchor="middle" fill="#1a1a1a">0</text>
<text transform="translate(1621.2 2002.2)" font-size="29" text-anchor="middle" fill="#1a1a1a">0.2</text>
<text transform="translate(1699.4 2002.2)" font-size="29" text-anchor="middle" fill="#1a1a1a">0.4</text>
<text transform="translate(1777.7 2002.2)" font-size="29" text-anchor="middle" fill="#1a1a1a">0.6</text>
<text transform="translate(1619.7 2045.2)" font-size="32.5" text-anchor="middle" fill="#1a1a1a">Time from 2nd target view</text>
<clipPath id="c17"><rect x="1464.6" y="1488.2" width="313.6" height="478"/></clipPath>
<g clip-path="url(#c17)">
<polygon points="1464.6,1728.5 1474.4,1725.5 1484.2,1730.6 1494,1753 1503.7,1702 1513.5,1681.6 1523.3,1675.5 1533.1,1651.1 1542.9,1614.4 1552.7,1588.9 1562.4,1606.2 1572.2,1622.5 1582,1631.7 1591.8,1637.2 1601.6,1639.4 1611.4,1608.9 1621.2,1618.9 1630.9,1614 1640.7,1611.3 1650.5,1603.2 1660.3,1605.2 1670.1,1589.9 1679.9,1549.1 1689.6,1508.4 1699.4,1571.6 1709.2,1550.2 1719,1576.7 1728.8,1557.3 1738.6,1616.4 1748.3,1638.8 1758.1,1697.9 1767.9,1721.4 1777.7,1671.5 1777.7,1720.4 1767.9,1778.5 1758.1,1753 1748.3,1695.9 1738.6,1669.4 1728.8,1624.6 1719,1641.9 1709.2,1625.6 1699.4,1647 1689.6,1585.8 1679.9,1618.5 1670.1,1655.1 1660.3,1664.3 1650.5,1666.4 1640.7,1670.4 1630.9,1680 1621.2,1683.3 1611.4,1670.8 1601.6,1709.6 1591.8,1701.6 1582,1707.1 1572.2,1691.8 1562.4,1683.7 1552.7,1676.5 1542.9,1687.8 1533.1,1716.3 1523.3,1732.6 1513.5,1742.8 1503.7,1759.1 1494,1793.8 1484.2,1783.6 1474.4,1776.4 1464.6,1777.4" fill="#262626" fill-opacity="0.28"/>
<polygon points="1464.6,1771.3 1474.4,1755 1484.2,1744.8 1494,1767.3 1503.7,1756 1513.5,1757.1 1523.3,1779.5 1533.1,1722.4 1542.9,1720.4 1552.7,1757.1 1562.4,1764.2 1572.2,1742.8 1582,1723.4 1591.8,1785.6 1601.6,1832.5 1611.4,1812.1 1621.2,1838.6 1630.9,1837.6 1640.7,1870.8 1650.5,1888.5 1660.3,1879.4 1670.1,1932.4 1679.9,1899.7 1689.6,1861.4 1699.4,1864.1 1709.2,1832.5 1719,1861 1728.8,1853.9 1738.6,1867.1 1748.3,1873.2 1758.1,1875.3 1767.9,1885.5 1777.7,1916.1 1777.7,1993.5 1767.9,1962.9 1758.1,1944.6 1748.3,1950.7 1738.6,1940.5 1728.8,1933.4 1719,1934.4 1709.2,1903.8 1699.4,1923.2 1689.6,1929.9 1679.9,1965 1670.1,1993.5 1660.3,1936.4 1650.5,1955.8 1640.7,1924.6 1630.9,1902.8 1621.2,1889.6 1611.4,1867.1 1601.6,1873.2 1591.8,1830.4 1582,1768.3 1572.2,1787.6 1562.4,1809 1552.7,1801.9 1542.9,1773.4 1533.1,1773.4 1523.3,1820.3 1513.5,1806 1503.7,1802.9 1494,1812.1 1484.2,1789.7 1474.4,1799.9 1464.6,1816.2" fill="#0f66b2" fill-opacity="0.28"/>
</g>
<line x1="1542.9" y1="1488.2" x2="1542.9" y2="1966.2" stroke="#000" stroke-width="1.6"/>
<line x1="1464.6" y1="1775" x2="1777.7" y2="1775" stroke="#000" stroke-width="1.6"/>
<clipPath id="c18"><rect x="1464.6" y="1488.2" width="316.1" height="478"/></clipPath>
<g clip-path="url(#c18)">
<polyline transform="translate(1464.6 0) scale(0.86 1)" points="0,1753 11.4,1750.9 22.8,1757.1 34.1,1773.4 45.5,1730.6 56.9,1712.2 68.3,1704.1 79.6,1683.7 91,1651.1 102.4,1632.7 113.8,1645 125.1,1657.2 136.5,1669.4 147.9,1669.4 159.3,1674.5 170.7,1639.9 182,1651.1 193.4,1647 204.8,1640.9 216.2,1634.8 227.5,1634.8 238.9,1622.5 250.3,1583.8 261.7,1547.1 273.1,1609.3 284.4,1587.9 295.8,1609.3 307.2,1590.9 318.6,1642.9 329.9,1667.4 341.3,1725.5 352.7,1749.9 364.1,1695.9" fill="none" stroke="#262626" stroke-width="7.0" stroke-linejoin="round"/>
<polyline transform="translate(1464.6 0) scale(0.86 1)" points="0,1793.8 11.4,1777.4 22.8,1767.3 34.1,1789.7 45.5,1779.5 56.9,1781.5 68.3,1799.9 79.6,1747.9 91,1746.9 102.4,1779.5 113.8,1786.6 125.1,1765.2 136.5,1745.9 147.9,1808 159.3,1852.9 170.7,1839.6 182,1864.1 193.4,1870.2 204.8,1897.7 216.2,1922.2 227.5,1907.9 238.9,1962.9 250.3,1932.4 261.7,1895.7 273.1,1893.6 284.4,1868.2 295.8,1897.7 307.2,1893.6 318.6,1903.8 329.9,1912 341.3,1909.9 352.7,1924.2 364.1,1954.8" fill="none" stroke="#0f66b2" stroke-width="7.0" stroke-linejoin="round"/>
</g>
<rect x="1610.3" y="1495.3" width="6" height="6" fill="#262626"/>
<rect x="1620.1" y="1495.3" width="6" height="6" fill="#262626"/>
<rect x="1629.9" y="1495.3" width="6" height="6" fill="#262626"/>
<rect x="1639.7" y="1495.3" width="6" height="6" fill="#262626"/>
<rect x="1649.5" y="1495.3" width="6" height="6" fill="#262626"/>
<rect x="1659.2" y="1495.3" width="6" height="6" fill="#262626"/>
<rect x="1669" y="1495.3" width="6" height="6" fill="#262626"/>
<rect x="1678.8" y="1495.3" width="6" height="6" fill="#262626"/>
<rect x="1688.6" y="1495.3" width="6" height="6" fill="#262626"/>
<rect x="1698.4" y="1495.3" width="6" height="6" fill="#262626"/>
<rect x="1708.2" y="1495.3" width="6" height="6" fill="#262626"/>
<rect x="1718" y="1495.3" width="6" height="6" fill="#262626"/>
<rect x="1727.7" y="1495.3" width="6" height="6" fill="#262626"/>
<rect x="1737.5" y="1495.3" width="6" height="6" fill="#262626"/>
<rect x="1600.5" y="1507.6" width="6" height="6" fill="#0f66b2"/>
<rect x="1639.7" y="1507.6" width="6" height="6" fill="#0f66b2"/>
<rect x="1649.5" y="1507.6" width="6" height="6" fill="#0f66b2"/>
<rect x="1659.2" y="1507.6" width="6" height="6" fill="#0f66b2"/>
<rect x="1669" y="1507.6" width="6" height="6" fill="#0f66b2"/>
<rect x="1678.8" y="1507.6" width="6" height="6" fill="#0f66b2"/>
<rect x="1698.4" y="1507.6" width="6" height="6" fill="#0f66b2"/>
<rect x="1757.1" y="1507.6" width="6" height="6" fill="#0f66b2"/>
<rect x="1766.9" y="1507.6" width="6" height="6" fill="#0f66b2"/>
<rect x="1776.7" y="1507.6" width="6" height="6" fill="#0f66b2"/>
<line x1="1640.3" y1="1960.1" x2="1777.7" y2="1960.1" stroke="#808080" stroke-width="1.4"/>
<rect x="1687.2" y="1955.6" width="64.2" height="9" fill="#fff" stroke="#808080" stroke-width="1.4"/>
<rect x="1712.3" y="1955.6" width="6" height="9" fill="#808080"/>
<path d="M1464.6 1487.4 V1966.2 H1778.5" fill="none" stroke="#262626" stroke-width="1.7"/>
<path d="M1464.6 1966.2h5.5M1464.6 1870.6h5.5M1464.6 1775h5.5M1464.6 1679.4h5.5M1464.6 1583.8h5.5M1464.6 1488.2h5.5M1464.6 1966.2v-5.5M1542.9 1966.2v-5.5M1621.2 1966.2v-5.5M1699.4 1966.2v-5.5" fill="none" stroke="#262626" stroke-width="1.7"/>
<line x1="639.2" y1="2154.8" x2="639.2" y2="2632.2" stroke="#d2d2d2" stroke-width="1.5"/>
<line x1="717" y1="2154.8" x2="717" y2="2632.2" stroke="#d2d2d2" stroke-width="1.5"/>
<line x1="794.8" y1="2154.8" x2="794.8" y2="2632.2" stroke="#d2d2d2" stroke-width="1.5"/>
<line x1="872.5" y1="2154.8" x2="872.5" y2="2632.2" stroke="#d2d2d2" stroke-width="1.5"/>
<line x1="639.2" y1="2632.2" x2="950.3" y2="2632.2" stroke="#d2d2d2" stroke-width="1.5"/>
<line x1="639.2" y1="2512.8" x2="950.3" y2="2512.8" stroke="#d2d2d2" stroke-width="1.5"/>
<line x1="639.2" y1="2393.5" x2="950.3" y2="2393.5" stroke="#d2d2d2" stroke-width="1.5"/>
<line x1="639.2" y1="2274.2" x2="950.3" y2="2274.2" stroke="#d2d2d2" stroke-width="1.5"/>
<line x1="639.2" y1="2154.8" x2="950.3" y2="2154.8" stroke="#d2d2d2" stroke-width="1.5"/>
<text transform="translate(631.7 2643.4)" font-size="29" text-anchor="end" fill="#1a1a1a">0.4</text>
<text transform="translate(631.7 2524)" font-size="29" text-anchor="end" fill="#1a1a1a">0.45</text>
<text transform="translate(631.7 2404.7)" font-size="29" text-anchor="end" fill="#1a1a1a">0.5</text>
<text transform="translate(631.7 2285.3)" font-size="29" text-anchor="end" fill="#1a1a1a">0.55</text>
<text transform="translate(631.7 2166)" font-size="29" text-anchor="end" fill="#1a1a1a">0.6</text>
<text transform="translate(637.7 2668.2)" font-size="29" text-anchor="middle" fill="#1a1a1a">-0.2</text>
<text transform="translate(717 2668.2)" font-size="29" text-anchor="middle" fill="#1a1a1a">0</text>
<text transform="translate(794.8 2668.2)" font-size="29" text-anchor="middle" fill="#1a1a1a">0.2</text>
<text transform="translate(872.5 2668.2)" font-size="29" text-anchor="middle" fill="#1a1a1a">0.4</text>
<text transform="translate(950.3 2668.2)" font-size="29" text-anchor="middle" fill="#1a1a1a">0.6</text>
<text transform="translate(793.2 2711.2)" font-size="32.5" text-anchor="middle" fill="#1a1a1a">Time from 1st target view</text>
<text transform="translate(563.2 2393.5) rotate(-90)" font-size="32.7" text-anchor="middle" fill="#1a1a1a">Area under ROC curve (AUC)</text>
<clipPath id="c19"><rect x="639.2" y="2154.8" width="311.6" height="477.4"/></clipPath>
<g clip-path="url(#c19)">
<polygon points="639.2,2416.3 648.9,2377.6 658.6,2404.1 668.4,2428.5 678.1,2412.2 687.8,2369.5 697.5,2359.3 707.3,2351.1 717,2320.6 726.7,2316.5 736.4,2289 746.1,2330.8 755.9,2375.6 765.6,2349.1 775.3,2312.4 785,2275.8 794.8,2254.4 804.5,2277.8 814.2,2304.3 823.9,2295.1 833.6,2302.3 843.4,2271.7 853.1,2258.5 862.8,2311.4 872.5,2278.8 882.2,2278.8 892,2267.6 901.7,2281.9 911.4,2257.4 921.1,2233 930.9,2179 940.6,2196.3 950.3,2204.5 950.3,2286 940.6,2279.9 930.9,2248.3 921.1,2310.4 911.4,2334.8 901.7,2361.3 892,2338.9 882.2,2331.8 872.5,2331.8 862.8,2372.5 853.1,2331.8 843.4,2341 833.6,2377.6 823.9,2376.6 814.2,2387.8 804.5,2355.2 794.8,2325.7 785,2349.1 775.3,2379.7 765.6,2410.2 755.9,2430.6 746.1,2395.9 736.4,2360.3 726.7,2393.9 717,2398 707.3,2428.5 697.5,2432.6 687.8,2432.6 678.1,2469.3 668.4,2481.5 658.6,2461.1 648.9,2442.8 639.2,2465.2" fill="#262626" fill-opacity="0.28"/>
<polygon points="639.2,2385.8 648.9,2357.2 658.6,2379.7 668.4,2400 678.1,2402.1 687.8,2440.8 697.5,2402.1 707.3,2356.2 717,2356.2 726.7,2318.5 736.4,2326.7 746.1,2343 755.9,2357.2 765.6,2361.3 775.3,2379.7 785,2400 794.8,2359.3 804.5,2345 814.2,2322.6 823.9,2331.8 833.6,2335.9 843.4,2334.8 853.1,2355.2 862.8,2368.4 872.5,2355.2 882.2,2389.8 892,2401 901.7,2441.8 911.4,2470.9 921.1,2475.4 930.9,2489.6 940.6,2484.5 950.3,2481.5 950.3,2563 940.6,2572.1 930.9,2579.2 921.1,2552.8 911.4,2557.2 901.7,2504.9 892,2468.2 882.2,2467.2 872.5,2432.6 862.8,2433.6 853.1,2420.4 843.4,2398 833.6,2407.1 823.9,2403.1 814.2,2375.6 804.5,2414.3 794.8,2440.8 785,2465.2 775.3,2440.8 765.6,2420.4 755.9,2418.3 746.1,2408.2 736.4,2400 726.7,2391.9 717,2437.7 707.3,2435.7 697.5,2469.3 687.8,2518.1 678.1,2461.1 668.4,2469.3 658.6,2436.7 648.9,2418.3 639.2,2446.9" fill="#0f66b2" fill-opacity="0.28"/>
</g>
<line x1="717" y1="2154.8" x2="717" y2="2632.2" stroke="#000" stroke-width="1.6"/>
<line x1="639.2" y1="2393.5" x2="950.3" y2="2393.5" stroke="#000" stroke-width="1.6"/>
<clipPath id="c20"><rect x="639.2" y="2154.8" width="314.1" height="477.4"/></clipPath>
<g clip-path="url(#c20)">
<polyline transform="translate(639.2 0) scale(0.86 1)" points="0,2440.8 11.3,2410.2 22.6,2432.6 33.9,2455 45.2,2440.8 56.5,2401 67.8,2395.9 79.1,2389.8 90.4,2359.3 101.7,2355.2 113,2324.7 124.3,2363.4 135.7,2403.1 147,2379.7 158.3,2346 169.6,2312.4 180.9,2290 192.2,2316.5 203.5,2346 214.8,2335.9 226.1,2339.9 237.4,2306.3 248.7,2295.1 260,2342 271.3,2305.3 282.6,2305.3 293.9,2303.3 305.2,2321.6 316.5,2296.1 327.8,2271.7 339.1,2213.7 350.4,2238.1 361.7,2245.2" fill="none" stroke="#262626" stroke-width="7.0" stroke-linejoin="round"/>
<polyline transform="translate(639.2 0) scale(0.86 1)" points="0,2416.3 11.3,2387.8 22.6,2408.2 33.9,2434.6 45.2,2431.6 56.5,2479.4 67.8,2435.7 79.1,2395.9 90.4,2397 101.7,2355.2 113,2363.4 124.3,2375.6 135.7,2387.8 147,2390.9 158.3,2410.2 169.6,2432.6 180.9,2400 192.2,2379.7 203.5,2349.1 214.8,2367.4 226.1,2371.5 237.4,2366.4 248.7,2387.8 260,2401 271.3,2393.9 282.6,2428.5 293.9,2434.6 305.2,2473.3 316.5,2514.1 327.8,2514.1 339.1,2534.4 350.4,2528.3 361.7,2522.2" fill="none" stroke="#0f66b2" stroke-width="7.0" stroke-linejoin="round"/>
</g>
<rect x="665.4" y="2159.5" width="5.9" height="5.9" fill="#fff" stroke="#262626" stroke-width="1.5"/>
<rect x="782.1" y="2159.5" width="5.9" height="5.9" fill="#fff" stroke="#262626" stroke-width="1.5"/>
<rect x="791.8" y="2159.5" width="5.9" height="5.9" fill="#fff" stroke="#262626" stroke-width="1.5"/>
<rect x="840.4" y="2159.5" width="5.9" height="5.9" fill="#fff" stroke="#262626" stroke-width="1.5"/>
<rect x="850.1" y="2159.5" width="5.9" height="5.9" fill="#fff" stroke="#262626" stroke-width="1.5"/>
<rect x="869.6" y="2159.5" width="5.9" height="5.9" fill="#fff" stroke="#262626" stroke-width="1.5"/>
<rect x="879.3" y="2159.5" width="5.9" height="5.9" fill="#fff" stroke="#262626" stroke-width="1.5"/>
<rect x="889" y="2159.5" width="5.9" height="5.9" fill="#fff" stroke="#262626" stroke-width="1.5"/>
<rect x="908.5" y="2159.5" width="5.9" height="5.9" fill="#fff" stroke="#262626" stroke-width="1.5"/>
<rect x="918.2" y="2159.5" width="5.9" height="5.9" fill="#fff" stroke="#262626" stroke-width="1.5"/>
<rect x="927.2" y="2158.7" width="7.4" height="7.4" fill="#262626"/>
<rect x="937.6" y="2159.5" width="5.9" height="5.9" fill="#fff" stroke="#262626" stroke-width="1.5"/>
<rect x="946.6" y="2158.7" width="7.4" height="7.4" fill="#262626"/>
<rect x="684.9" y="2173.8" width="5.9" height="5.9" fill="#fff" stroke="#0f66b2" stroke-width="1.5"/>
<rect x="898.7" y="2173.8" width="5.9" height="5.9" fill="#fff" stroke="#0f66b2" stroke-width="1.5"/>
<rect x="908.5" y="2173.8" width="5.9" height="5.9" fill="#fff" stroke="#0f66b2" stroke-width="1.5"/>
<rect x="918.2" y="2173.8" width="5.9" height="5.9" fill="#fff" stroke="#0f66b2" stroke-width="1.5"/>
<rect x="927.9" y="2173.8" width="5.9" height="5.9" fill="#fff" stroke="#0f66b2" stroke-width="1.5"/>
<rect x="937.6" y="2173.8" width="5.9" height="5.9" fill="#fff" stroke="#0f66b2" stroke-width="1.5"/>
<rect x="947.3" y="2173.8" width="5.9" height="5.9" fill="#fff" stroke="#0f66b2" stroke-width="1.5"/>
<line x1="787.4" y1="2624.6" x2="837.8" y2="2624.6" stroke="#0f66b2" stroke-width="1.4"/>
<rect x="799.5" y="2620.1" width="17.3" height="9" fill="#fff" stroke="#0f66b2" stroke-width="1.4"/>
<rect x="804.8" y="2620.1" width="6" height="9" fill="#0f66b2"/>
<line x1="907.1" y1="2624.6" x2="950.3" y2="2624.6" stroke="#808080" stroke-width="1.4"/>
<rect x="989.2" y="2620.1" width="-38.4" height="9" fill="#fff" stroke="#808080" stroke-width="1.4"/>
<path d="M639.2 2154 V2632.2 H951.1" fill="none" stroke="#262626" stroke-width="1.7"/>
<path d="M639.2 2632.2h5.5M639.2 2512.8h5.5M639.2 2393.5h5.5M639.2 2274.2h5.5M639.2 2154.8h5.5M639.2 2632.2v-5.5M717 2632.2v-5.5M794.8 2632.2v-5.5M872.5 2632.2v-5.5" fill="none" stroke="#262626" stroke-width="1.7"/>
<line x1="1049.3" y1="2154.8" x2="1049.3" y2="2632.2" stroke="#d2d2d2" stroke-width="1.5"/>
<line x1="1127.9" y1="2154.8" x2="1127.9" y2="2632.2" stroke="#d2d2d2" stroke-width="1.5"/>
<line x1="1206.5" y1="2154.8" x2="1206.5" y2="2632.2" stroke="#d2d2d2" stroke-width="1.5"/>
<line x1="1285.1" y1="2154.8" x2="1285.1" y2="2632.2" stroke="#d2d2d2" stroke-width="1.5"/>
<line x1="1049.3" y1="2632.2" x2="1363.7" y2="2632.2" stroke="#d2d2d2" stroke-width="1.5"/>
<line x1="1049.3" y1="2512.8" x2="1363.7" y2="2512.8" stroke="#d2d2d2" stroke-width="1.5"/>
<line x1="1049.3" y1="2393.5" x2="1363.7" y2="2393.5" stroke="#d2d2d2" stroke-width="1.5"/>
<line x1="1049.3" y1="2274.2" x2="1363.7" y2="2274.2" stroke="#d2d2d2" stroke-width="1.5"/>
<line x1="1049.3" y1="2154.8" x2="1363.7" y2="2154.8" stroke="#d2d2d2" stroke-width="1.5"/>
<text transform="translate(1041.8 2643.4)" font-size="29" text-anchor="end" fill="#1a1a1a">0.4</text>
<text transform="translate(1041.8 2524)" font-size="29" text-anchor="end" fill="#1a1a1a">0.45</text>
<text transform="translate(1041.8 2404.7)" font-size="29" text-anchor="end" fill="#1a1a1a">0.5</text>
<text transform="translate(1041.8 2285.3)" font-size="29" text-anchor="end" fill="#1a1a1a">0.55</text>
<text transform="translate(1041.8 2166)" font-size="29" text-anchor="end" fill="#1a1a1a">0.6</text>
<text transform="translate(1047.8 2668.2)" font-size="29" text-anchor="middle" fill="#1a1a1a">-0.2</text>
<text transform="translate(1127.9 2668.2)" font-size="29" text-anchor="middle" fill="#1a1a1a">0</text>
<text transform="translate(1206.5 2668.2)" font-size="29" text-anchor="middle" fill="#1a1a1a">0.2</text>
<text transform="translate(1285.1 2668.2)" font-size="29" text-anchor="middle" fill="#1a1a1a">0.4</text>
<text transform="translate(1368 2667.4)" font-size="29" text-anchor="middle" fill="#1a1a1a">0.6</text>
<text transform="translate(1205 2711.2)" font-size="32.5" text-anchor="middle" fill="#1a1a1a">Time from 2nd target view</text>
<clipPath id="c21"><rect x="1049.3" y="2154.8" width="314.9" height="477.4"/></clipPath>
<g clip-path="url(#c21)">
<polygon points="1049.3,2320.6 1059.1,2353.2 1069,2320.6 1078.8,2316.5 1088.6,2332.8 1098.4,2296.1 1108.2,2305.3 1118.1,2297.2 1127.9,2296.1 1137.7,2261.5 1147.5,2286 1157.4,2247.3 1167.2,2273.7 1177,2286 1186.8,2252.4 1196.7,2259.5 1206.5,2261.5 1216.3,2246.2 1226.2,2270.1 1236,2237.1 1245.8,2200.4 1255.6,2184.5 1265.5,2239.5 1275.3,2212.2 1285.1,2230 1294.9,2198 1304.8,2190.8 1314.6,2196.3 1324.4,2235 1334.2,2200.4 1344.1,2199.4 1353.9,2201 1363.7,2237.1 1363.7,2318.5 1353.9,2271.1 1344.1,2280.9 1334.2,2288 1324.4,2332.8 1314.6,2283.9 1304.8,2277.2 1294.9,2284.3 1285.1,2317.5 1275.3,2298.6 1265.5,2318.1 1255.6,2257 1245.8,2271.7 1236,2310.4 1226.2,2346.7 1216.3,2327.7 1206.5,2351.1 1196.7,2341 1186.8,2321.6 1177,2365.4 1167.2,2351.1 1157.4,2322.6 1147.5,2369.5 1137.7,2341 1127.9,2381.7 1118.1,2376.6 1108.2,2368.4 1098.4,2361.3 1088.6,2387.8 1078.8,2383.7 1069,2381.7 1059.1,2426.5 1049.3,2381.7" fill="#262626" fill-opacity="0.28"/>
<polygon points="1049.3,2357.2 1059.1,2320.6 1069,2332.8 1078.8,2351.1 1088.6,2403.1 1098.4,2431.6 1108.2,2422.4 1118.1,2369.5 1127.9,2329.8 1137.7,2332.8 1147.5,2288 1157.4,2318.5 1167.2,2365.4 1177,2333.8 1186.8,2374.6 1196.7,2392.3 1206.5,2426.5 1216.3,2475.4 1226.2,2457 1236,2476.4 1245.8,2477.4 1255.6,2498.8 1265.5,2511 1275.3,2534.4 1285.1,2547.7 1294.9,2496.1 1304.8,2491.7 1314.6,2462.1 1324.4,2454 1334.2,2425.9 1344.1,2426.9 1353.9,2483.9 1363.7,2481.5 1363.7,2552.8 1353.9,2564.6 1344.1,2511.6 1334.2,2506.5 1324.4,2535.5 1314.6,2553.8 1304.8,2575.2 1294.9,2568.7 1285.1,2631.2 1275.3,2613.9 1265.5,2586.4 1255.6,2574.2 1245.8,2560.9 1236,2557.9 1226.2,2540.5 1216.3,2540.5 1206.5,2495.7 1196.7,2464.8 1186.8,2443.8 1177,2401 1167.2,2428.5 1157.4,2379.7 1147.5,2349.1 1137.7,2400 1127.9,2397 1118.1,2434.6 1108.2,2491.7 1098.4,2498.8 1088.6,2464.2 1078.8,2412.2 1069,2398 1059.1,2387.8 1049.3,2418.3" fill="#0f66b2" fill-opacity="0.28"/>
</g>
<line x1="1127.9" y1="2154.8" x2="1127.9" y2="2632.2" stroke="#000" stroke-width="1.6"/>
<line x1="1049.3" y1="2393.5" x2="1363.7" y2="2393.5" stroke="#000" stroke-width="1.6"/>
<clipPath id="c22"><rect x="1049.3" y="2154.8" width="317.4" height="477.4"/></clipPath>
<g clip-path="url(#c22)">
<polyline transform="translate(1049.3 0) scale(0.86 1)" points="0,2351.1 11.4,2389.8 22.8,2351.1 34.3,2350.1 45.7,2360.3 57.1,2328.7 68.5,2336.9 80,2336.9 91.4,2338.9 102.8,2301.2 114.2,2327.7 125.7,2284.9 137.1,2312.4 148.5,2325.7 159.9,2287 171.4,2300.2 182.8,2306.3 194.2,2287 205.6,2308.4 217.1,2273.7 228.5,2236.1 239.9,2220.8 251.3,2278.8 262.8,2255.4 274.2,2273.7 285.6,2241.2 297,2234 308.5,2240.1 319.9,2283.9 331.3,2244.2 342.7,2240.1 354.2,2236.1 365.6,2277.8" fill="none" stroke="#262626" stroke-width="7.0" stroke-linejoin="round"/>
<polyline transform="translate(1049.3 0) scale(0.86 1)" points="0,2387.8 11.4,2354.2 22.8,2365.4 34.3,2381.7 45.7,2433.6 57.1,2465.2 68.5,2457 80,2402.1 91.4,2363.4 102.8,2366.4 114.2,2318.5 125.7,2349.1 137.1,2397 148.5,2367.4 159.9,2409.2 171.4,2428.5 182.8,2461.1 194.2,2508 205.6,2498.8 217.1,2517.1 228.5,2519.2 239.9,2536.5 251.3,2548.7 262.8,2574.2 274.2,2589.4 285.6,2532.4 297,2533.4 308.5,2508 319.9,2494.7 331.3,2466.2 342.7,2469.3 354.2,2524.3 365.6,2517.1" fill="none" stroke="#0f66b2" stroke-width="7.0" stroke-linejoin="round"/>
</g>
<rect x="1134.8" y="2159.5" width="5.9" height="5.9" fill="#fff" stroke="#262626" stroke-width="1.5"/>
<rect x="1154.4" y="2159.5" width="5.9" height="5.9" fill="#fff" stroke="#262626" stroke-width="1.5"/>
<rect x="1164.2" y="2159.5" width="5.9" height="5.9" fill="#fff" stroke="#262626" stroke-width="1.5"/>
<rect x="1174.1" y="2159.5" width="5.9" height="5.9" fill="#fff" stroke="#262626" stroke-width="1.5"/>
<rect x="1183.9" y="2159.5" width="5.9" height="5.9" fill="#fff" stroke="#262626" stroke-width="1.5"/>
<rect x="1193.7" y="2159.5" width="5.9" height="5.9" fill="#fff" stroke="#262626" stroke-width="1.5"/>
<rect x="1213.4" y="2159.5" width="5.9" height="5.9" fill="#fff" stroke="#262626" stroke-width="1.5"/>
<rect x="1223.2" y="2159.5" width="5.9" height="5.9" fill="#fff" stroke="#262626" stroke-width="1.5"/>
<rect x="1233" y="2159.5" width="5.9" height="5.9" fill="#fff" stroke="#262626" stroke-width="1.5"/>
<rect x="1242.1" y="2158.7" width="7.4" height="7.4" fill="#262626"/>
<rect x="1251.9" y="2158.7" width="7.4" height="7.4" fill="#262626"/>
<rect x="1262.5" y="2159.5" width="5.9" height="5.9" fill="#fff" stroke="#262626" stroke-width="1.5"/>
<rect x="1272.3" y="2159.5" width="5.9" height="5.9" fill="#fff" stroke="#262626" stroke-width="1.5"/>
<rect x="1282.2" y="2159.5" width="5.9" height="5.9" fill="#fff" stroke="#262626" stroke-width="1.5"/>
<rect x="1292" y="2159.5" width="5.9" height="5.9" fill="#fff" stroke="#262626" stroke-width="1.5"/>
<rect x="1301.8" y="2159.5" width="5.9" height="5.9" fill="#fff" stroke="#262626" stroke-width="1.5"/>
<rect x="1311.6" y="2159.5" width="5.9" height="5.9" fill="#fff" stroke="#262626" stroke-width="1.5"/>
<rect x="1321.5" y="2159.5" width="5.9" height="5.9" fill="#fff" stroke="#262626" stroke-width="1.5"/>
<rect x="1331.3" y="2159.5" width="5.9" height="5.9" fill="#fff" stroke="#262626" stroke-width="1.5"/>
<rect x="1341.1" y="2159.5" width="5.9" height="5.9" fill="#fff" stroke="#262626" stroke-width="1.5"/>
<rect x="1350.2" y="2158.7" width="7.4" height="7.4" fill="#262626"/>
<rect x="1360.8" y="2159.5" width="5.9" height="5.9" fill="#fff" stroke="#262626" stroke-width="1.5"/>
<rect x="1144.6" y="2173.8" width="5.9" height="5.9" fill="#fff" stroke="#0f66b2" stroke-width="1.5"/>
<rect x="1213.4" y="2173.8" width="5.9" height="5.9" fill="#fff" stroke="#0f66b2" stroke-width="1.5"/>
<rect x="1223.2" y="2173.8" width="5.9" height="5.9" fill="#fff" stroke="#0f66b2" stroke-width="1.5"/>
<rect x="1233" y="2173.8" width="5.9" height="5.9" fill="#fff" stroke="#0f66b2" stroke-width="1.5"/>
<rect x="1242.8" y="2173.8" width="5.9" height="5.9" fill="#fff" stroke="#0f66b2" stroke-width="1.5"/>
<rect x="1252.7" y="2173.8" width="5.9" height="5.9" fill="#fff" stroke="#0f66b2" stroke-width="1.5"/>
<rect x="1261.8" y="2173.1" width="7.4" height="7.4" fill="#0f66b2"/>
<rect x="1271.6" y="2173.1" width="7.4" height="7.4" fill="#0f66b2"/>
<rect x="1281.4" y="2173.1" width="7.4" height="7.4" fill="#0f66b2"/>
<rect x="1291.2" y="2173.1" width="7.4" height="7.4" fill="#0f66b2"/>
<rect x="1301.8" y="2173.8" width="5.9" height="5.9" fill="#fff" stroke="#0f66b2" stroke-width="1.5"/>
<rect x="1311.6" y="2173.8" width="5.9" height="5.9" fill="#fff" stroke="#0f66b2" stroke-width="1.5"/>
<rect x="1321.5" y="2173.8" width="5.9" height="5.9" fill="#fff" stroke="#0f66b2" stroke-width="1.5"/>
<rect x="1350.9" y="2173.8" width="5.9" height="5.9" fill="#fff" stroke="#0f66b2" stroke-width="1.5"/>
<rect x="1360.8" y="2173.8" width="5.9" height="5.9" fill="#fff" stroke="#0f66b2" stroke-width="1.5"/>
<line x1="1226.3" y1="2624.6" x2="1363.7" y2="2624.6" stroke="#808080" stroke-width="1.4"/>
<rect x="1272.2" y="2620.1" width="64.2" height="9" fill="#fff" stroke="#808080" stroke-width="1.4"/>
<rect x="1296.7" y="2620.1" width="6" height="9" fill="#808080"/>
<path d="M1049.3 2154 V2632.2 H1364.5" fill="none" stroke="#262626" stroke-width="1.7"/>
<path d="M1049.3 2632.2h5.5M1049.3 2512.8h5.5M1049.3 2393.5h5.5M1049.3 2274.2h5.5M1049.3 2154.8h5.5M1049.3 2632.2v-5.5M1127.9 2632.2v-5.5M1206.5 2632.2v-5.5M1285.1 2632.2v-5.5" fill="none" stroke="#262626" stroke-width="1.7"/>
<text transform="translate(178.7 31.6)" font-size="43.5" font-weight="bold" fill="#000">a</text>
<text transform="translate(594 31.6)" font-size="43.5" font-weight="bold" fill="#000">b</text>
<text transform="translate(1022 31.6)" font-size="43.5" font-weight="bold" fill="#000">c</text>
<text transform="translate(1452 31.6)" font-size="43.5" font-weight="bold" fill="#000">d</text>
<text transform="translate(180 723)" font-size="43.5" font-weight="bold" fill="#000">e</text>
<text transform="translate(597 723)" font-size="43.5" font-weight="bold" fill="#000">f</text>
<text transform="translate(1024 723)" font-size="43.5" font-weight="bold" fill="#000">g</text>
<text transform="translate(1452 723)" font-size="43.5" font-weight="bold" fill="#000">h</text>
<text transform="translate(183 1452)" font-size="43.5" font-weight="bold" fill="#000">i</text>
<text transform="translate(1045 1452)" font-size="43.5" font-weight="bold" fill="#000">j</text>
<text transform="translate(617 2127)" font-size="43.5" font-weight="bold" fill="#000">k</text>
<text transform="translate(37.8 291.5) rotate(-90)" font-size="52.3" text-anchor="middle" font-style="italic" fill="#000">Monkey C</text>
<text transform="translate(37.8 983) rotate(-90)" font-size="52.3" text-anchor="middle" font-style="italic" fill="#000">Monkey K</text>
<text transform="translate(512 1453)" font-size="51.3" text-anchor="middle" font-style="italic" fill="#000">RT-locked</text>
<text transform="translate(1083 1453)" font-size="51.3" font-style="italic" fill="#000">Using non-residualized decodes</text>
<text transform="translate(1003 2128)" font-size="51.3" text-anchor="middle" font-style="italic" fill="#000">Only equal-value offer trials</text>
</svg>
</body></html>
